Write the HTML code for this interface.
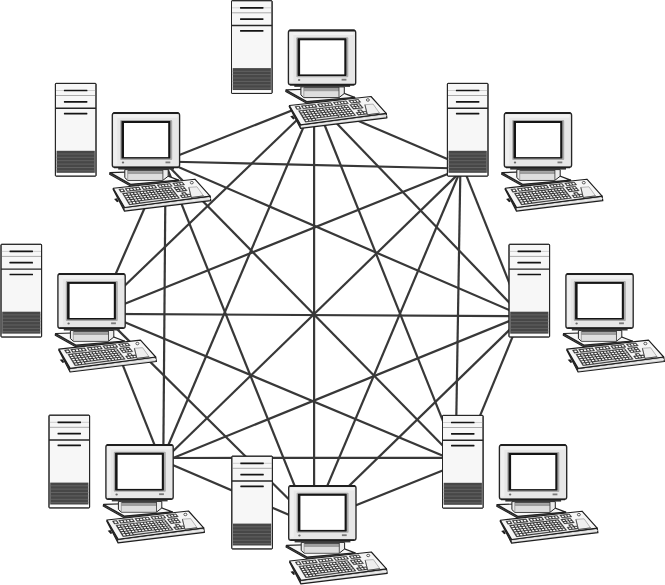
<!DOCTYPE html>
<html lang="en">
<head>
<meta charset="utf-8">
<title>Full mesh network topology</title>
<style>
html,body{margin:0;padding:0;background:#fff;}
body{width:665px;height:585px;overflow:hidden;font-family:"Liberation Sans",sans-serif;}
svg{display:block;}
</style>
</head>
<body>
<svg width="665" height="585" viewBox="0 0 665 585" role="img" aria-label="Full mesh network topology of eight workstations">
<rect width="665" height="585" fill="#fff"/>
<g stroke="#383838" stroke-width="2.2" stroke-linecap="butt" fill="none">
<line x1="315.1" y1="101.2" x2="163.0" y2="161.6"/>
<line x1="316.0" y1="101.7" x2="96.6" y2="312.7"/>
<line x1="314.8" y1="100.5" x2="162.1" y2="459.8"/>
<line x1="314.1" y1="100.5" x2="314.1" y2="526.0"/>
<line x1="314.8" y1="100.5" x2="458.5" y2="459.8"/>
<line x1="314.7" y1="100.6" x2="522.2" y2="316.0"/>
<line x1="314.2" y1="101.9" x2="463.1" y2="165.8"/>
<line x1="163.0" y1="161.5" x2="462.0" y2="168.5"/>
<line x1="163.4" y1="160.6" x2="522.2" y2="315.7"/>
<line x1="163.4" y1="161.1" x2="457.4" y2="460.6"/>
<line x1="164.3" y1="161.0" x2="310.9" y2="526.4"/>
<line x1="165.6" y1="161.5" x2="163.3" y2="460.0"/>
<line x1="164.7" y1="162.2" x2="98.0" y2="314.2"/>
<line x1="461.9" y1="168.2" x2="98.1" y2="314.5"/>
<line x1="98.0" y1="313.9" x2="522.0" y2="316.2"/>
<line x1="99.2" y1="311.4" x2="457.2" y2="461.8"/>
<line x1="100.0" y1="312.1" x2="313.9" y2="524.1"/>
<line x1="101.9" y1="312.6" x2="160.8" y2="460.7"/>
<line x1="463.0" y1="169.4" x2="163.2" y2="460.7"/>
<line x1="521.9" y1="315.9" x2="163.3" y2="461.9"/>
<line x1="458.0" y1="457.9" x2="162.5" y2="458.0"/>
<line x1="312.5" y1="524.9" x2="162.2" y2="460.6"/>
<line x1="461.4" y1="168.2" x2="310.6" y2="525.4"/>
<line x1="522.7" y1="317.0" x2="310.0" y2="523.9"/>
<line x1="459.5" y1="463.8" x2="310.9" y2="523.3"/>
<line x1="460.4" y1="168.4" x2="455.6" y2="460.0"/>
<line x1="521.2" y1="315.9" x2="461.2" y2="461.3"/>
<line x1="463.3" y1="167.9" x2="522.5" y2="316.0"/>
</g>
<g transform="translate(231.4 0.3)">

 <!-- tower -->
 <rect x="0.1" y="0.4" width="40.6" height="92.7" rx="0.7" fill="#f7f7f7" stroke="#262626" stroke-width="1"/>
 <line x1="0.7" y1="7.5" x2="40.1" y2="7.5" stroke="#c4c4c4" stroke-width="0.8"/>
 <line x1="0.7" y1="12.5" x2="40.1" y2="12.5" stroke="#8a8a8a" stroke-width="0.7"/>
 <line x1="0.1" y1="25.2" x2="40.7" y2="25.2" stroke="#262626" stroke-width="1.4"/>
 <rect x="8.6" y="6.65" width="23.5" height="1.7" rx="0.4" fill="#141414"/>
 <rect x="8.6" y="17.95" width="23.5" height="1.7" rx="0.4" fill="#141414"/>
 <rect x="8.6" y="29.75" width="23.5" height="1.7" rx="0.4" fill="#141414"/>
 <rect x="1.3" y="67.8" width="38.2" height="22.1" fill="#474747"/>
 <g stroke="#6f6f6f" stroke-width="0.7">
  <line x1="1.3" y1="71" x2="39.5" y2="71"/><line x1="1.3" y1="74.3" x2="39.5" y2="74.3"/>
  <line x1="1.3" y1="77.7" x2="39.5" y2="77.7"/><line x1="1.3" y1="81.1" x2="39.5" y2="81.1"/>
  <line x1="1.3" y1="84.5" x2="39.5" y2="84.5"/><line x1="1.3" y1="87.8" x2="39.5" y2="87.8"/>
 </g>
 <rect x="0.7" y="89.9" width="39.4" height="2.6" fill="#fdfdfd"/>
 <rect x="0.1" y="0.4" width="40.6" height="92.7" rx="0.7" fill="none" stroke="#262626" stroke-width="1"/>

 <!-- monitor base plate -->
 <polygon points="54.3,91.3 75.3,103 123.4,98.6 123.3,97 75.3,101.3 54.6,89.8" fill="#777" stroke="#222" stroke-width="1.1" stroke-linejoin="round"/>
 <polygon points="54.8,89.6 100,88.2 123.3,97.1 75.3,101.3" fill="#f8f8f8" stroke="#222" stroke-width="1.2" stroke-linejoin="round"/>
 <!-- stand block -->
 <polygon points="69.5,86.6 112.9,86.6 112.9,93.2 107.6,97.3 72.4,97.3 69.5,94.6" fill="#ececec" stroke="#222" stroke-width="1" stroke-linejoin="round"/>
 <rect x="72.4" y="86.6" width="35.2" height="1.6" fill="#4d4d4d"/>
 <rect x="72.4" y="88.2" width="35.2" height="3" fill="#9e9e9e"/>
 <rect x="72.4" y="91.2" width="35.2" height="5.6" fill="#dedede"/>
 <line x1="72.4" y1="86.6" x2="72.4" y2="97.2" stroke="#777" stroke-width="0.6"/>
 <line x1="107.6" y1="86.6" x2="107.6" y2="97.2" stroke="#333" stroke-width="0.8"/>
 <!-- neck shadow -->
 <rect x="62.9" y="84.4" width="55.8" height="2.2" fill="#3a3a3a"/>
 <!-- monitor body -->
 <rect x="57" y="29.9" width="67.3" height="54.5" rx="2.3" fill="#e7e7e7" stroke="#262626" stroke-width="1.35"/>
 <rect x="59" y="31.6" width="63.3" height="3.2" rx="1.2" fill="#f2f2f2"/>
 <rect x="58.4" y="31.6" width="3.6" height="50" rx="1.2" fill="#efefef"/>
 <path d="M58,30.1 H123.3" fill="none" stroke="#1f1f1f" stroke-width="2"/>
 <path d="M58.6,84.3 H122.7" fill="none" stroke="#1f1f1f" stroke-width="1.7"/>
 <rect x="64.9" y="37" width="52" height="40" rx="1" fill="#a9a9a9"/>
 <rect x="66.2" y="38" width="48.8" height="37.6" rx="0.6" fill="#151515"/>
 <rect x="68.7" y="40" width="44.2" height="34.1" fill="#fff"/>
 <ellipse cx="67.7" cy="79.6" rx="1.2" ry="1" fill="#6a6a6a"/>
 <rect x="110.2" y="78.5" width="4.8" height="1.8" fill="#7a7a7a"/>
 <!-- keyboard -->
<polygon points="57.80,106.10 69.2,128.1 155.5,117.6 154.80,113.10 69.30,124.50" fill="#d2d2d2" stroke="#1e1e1e" stroke-width="1.2" stroke-linejoin="round"/>
<polygon points="57.80,106.10 69.2,128.1 69.30,124.50" fill="#2a2a2a"/>
<polyline points="69.6,126.3 155.2,115.4" fill="none" stroke="#f2f2f2" stroke-width="1"/>
<polygon points="58.8,115.9 61.6,115.3 63.4,118.4 61.8,119.2" fill="#1e1e1e"/>
<polygon points="58.00,105.20 139.60,96.20 154.80,113.10 69.30,124.50" fill="#f6f6f6" stroke="#1e1e1e" stroke-width="1.15" stroke-linejoin="round"/>
<g fill="#333" stroke="#333" stroke-width="0.4" stroke-linejoin="round"><polygon points="63.51,106.13 67.90,105.64 69.82,108.74 65.39,109.25"/><polygon points="69.71,105.44 83.73,103.87 85.78,106.89 71.64,108.52"/><polygon points="85.94,103.62 99.45,102.11 101.63,105.05 88.01,106.63"/><polygon points="101.75,101.85 114.79,100.39 117.08,103.27 103.94,104.79"/><polygon points="117.31,100.11 127.01,99.02 129.39,101.84 119.63,102.97"/><polygon points="67.02,110.35 115.92,104.62 124.36,115.30 74.02,121.90"/><polygon points="118.29,104.34 128.14,103.19 131.91,107.71 121.96,108.93"/><polygon points="126.00,109.82 129.97,109.33 132.21,112.03 128.21,112.54"/><polygon points="124.57,112.21 134.61,110.93 136.89,113.65 126.79,114.98"/></g>
<g fill="#fff"><polygon points="65.09,106.77 67.26,106.52 68.23,108.09 66.04,108.34"/><polygon points="71.28,106.07 73.43,105.83 74.42,107.38 72.26,107.63"/><polygon points="74.57,105.70 76.70,105.46 77.70,107.00 75.56,107.25"/><polygon points="77.83,105.33 79.94,105.09 80.96,106.63 78.84,106.87"/><polygon points="81.06,104.97 83.16,104.73 84.20,106.26 82.08,106.50"/><polygon points="87.50,104.24 89.57,104.00 90.63,105.52 88.55,105.76"/><polygon points="90.67,103.88 92.72,103.65 93.80,105.16 91.73,105.39"/><polygon points="93.81,103.53 95.85,103.30 96.94,104.80 94.89,105.03"/><polygon points="96.93,103.17 98.96,102.94 100.06,104.44 98.02,104.67"/><polygon points="103.31,102.45 105.31,102.23 106.43,103.71 104.42,103.94"/><polygon points="106.36,102.11 108.34,101.89 109.48,103.36 107.49,103.59"/><polygon points="109.39,101.77 111.36,101.54 112.51,103.01 110.53,103.24"/><polygon points="112.40,101.43 114.35,101.21 115.51,102.66 113.55,102.89"/><polygon points="118.87,100.70 120.79,100.48 121.97,101.92 120.04,102.14"/><polygon points="121.81,100.36 123.72,100.15 124.91,101.59 122.99,101.81"/><polygon points="124.73,100.03 126.63,99.82 127.83,101.25 125.93,101.47"/><polygon points="68.62,111.01 70.82,110.75 71.60,112.00 69.39,112.27"/><polygon points="71.99,110.61 74.17,110.35 74.96,111.60 72.77,111.86"/><polygon points="75.32,110.21 77.49,109.96 78.29,111.20 76.12,111.46"/><polygon points="78.64,109.82 80.79,109.57 81.60,110.81 79.44,111.06"/><polygon points="81.92,109.43 84.06,109.18 84.88,110.41 82.74,110.67"/><polygon points="85.19,109.05 87.31,108.80 88.14,110.02 86.01,110.28"/><polygon points="88.43,108.67 90.53,108.42 91.37,109.64 89.26,109.89"/><polygon points="91.64,108.29 93.73,108.04 94.58,109.25 92.49,109.50"/><polygon points="94.84,107.91 96.91,107.66 97.77,108.87 95.69,109.12"/><polygon points="98.00,107.54 100.06,107.29 100.93,108.49 98.87,108.74"/><polygon points="101.15,107.16 103.19,106.92 104.08,108.12 102.03,108.36"/><polygon points="104.27,106.79 106.30,106.56 107.19,107.74 105.16,107.99"/><polygon points="107.37,106.43 109.39,106.19 110.29,107.37 108.27,107.62"/><polygon points="110.45,106.06 112.45,105.83 113.36,107.01 111.36,107.25"/><polygon points="113.51,105.70 115.49,105.47 116.41,106.64 114.42,106.88"/><polygon points="69.90,113.10 72.11,112.83 72.90,114.11 70.68,114.38"/><polygon points="73.28,112.69 75.48,112.43 76.28,113.69 74.08,113.96"/><polygon points="76.64,112.29 78.82,112.02 79.63,113.28 77.44,113.55"/><polygon points="79.97,111.88 82.13,111.62 82.96,112.88 80.79,113.14"/><polygon points="83.28,111.49 85.42,111.23 86.26,112.47 84.10,112.74"/><polygon points="86.56,111.09 88.69,110.83 89.53,112.07 87.40,112.34"/><polygon points="89.82,110.70 91.93,110.44 92.79,111.68 90.66,111.94"/><polygon points="93.05,110.31 95.15,110.05 96.01,111.28 93.91,111.54"/><polygon points="96.26,109.92 98.34,109.67 99.22,110.89 97.13,111.15"/><polygon points="99.44,109.54 101.51,109.29 102.40,110.50 100.32,110.76"/><polygon points="102.61,109.15 104.66,108.91 105.55,110.12 103.49,110.37"/><polygon points="105.74,108.78 107.78,108.53 108.69,109.73 106.64,109.98"/><polygon points="108.86,108.40 110.88,108.16 111.80,109.35 109.77,109.60"/><polygon points="111.95,108.03 113.96,107.78 114.89,108.98 112.87,109.22"/><polygon points="115.03,107.66 117.02,107.42 117.95,108.60 115.95,108.85"/><polygon points="71.20,115.22 73.42,114.95 74.22,116.24 71.99,116.52"/><polygon points="74.60,114.80 76.81,114.53 77.62,115.82 75.40,116.09"/><polygon points="77.97,114.39 80.17,114.12 80.99,115.40 78.79,115.67"/><polygon points="81.32,113.98 83.50,113.71 84.33,114.98 82.15,115.25"/><polygon points="84.65,113.57 86.81,113.30 87.65,114.57 85.49,114.84"/><polygon points="87.95,113.16 90.09,112.90 90.95,114.16 88.80,114.42"/><polygon points="91.22,112.76 93.35,112.49 94.22,113.75 92.08,114.01"/><polygon points="94.47,112.36 96.59,112.10 97.46,113.34 95.34,113.61"/><polygon points="97.70,111.96 99.80,111.70 100.68,112.94 98.58,113.20"/><polygon points="100.90,111.56 102.98,111.31 103.88,112.54 101.79,112.80"/><polygon points="104.08,111.17 106.15,110.92 107.05,112.15 104.98,112.40"/><polygon points="107.24,110.78 109.29,110.53 110.20,111.75 108.15,112.01"/><polygon points="110.37,110.40 112.40,110.15 113.33,111.36 111.29,111.62"/><polygon points="113.48,110.01 115.50,109.77 116.43,110.98 114.41,111.23"/><polygon points="116.57,109.63 118.57,109.39 119.52,110.59 117.51,110.84"/><polygon points="72.51,117.38 74.75,117.10 75.56,118.41 73.32,118.70"/><polygon points="75.93,116.95 78.16,116.67 78.98,117.97 76.75,118.26"/><polygon points="79.33,116.52 81.53,116.24 82.37,117.54 80.16,117.82"/><polygon points="82.70,116.10 84.89,115.82 85.73,117.11 83.54,117.39"/><polygon points="86.04,115.68 88.21,115.40 89.07,116.69 86.89,116.97"/><polygon points="89.36,115.26 91.51,114.99 92.38,116.27 90.22,116.54"/><polygon points="92.65,114.85 94.79,114.58 95.67,115.85 93.52,116.12"/><polygon points="95.92,114.43 98.04,114.17 98.93,115.43 96.80,115.70"/><polygon points="99.16,114.03 101.27,113.76 102.17,115.02 100.06,115.29"/><polygon points="102.38,113.62 104.47,113.36 105.38,114.61 103.29,114.88"/><polygon points="105.58,113.22 107.65,112.96 108.57,114.20 106.49,114.47"/><polygon points="108.75,112.82 110.81,112.56 111.74,113.80 109.67,114.06"/><polygon points="111.90,112.42 113.94,112.17 114.88,113.40 112.83,113.66"/><polygon points="115.02,112.03 117.05,111.78 118.00,113.00 115.97,113.26"/><polygon points="118.13,111.64 120.14,111.39 121.10,112.61 119.08,112.86"/><polygon points="73.85,119.57 76.10,119.28 76.92,120.61 74.66,120.90"/><polygon points="77.29,119.12 79.52,118.84 80.36,120.16 78.12,120.45"/><polygon points="80.70,118.69 82.92,118.40 83.77,119.72 81.54,120.01"/><polygon points="84.05,118.26 106.03,115.43 106.95,116.70 84.90,119.57" fill="#d9d9d9"/><polygon points="107.10,115.29 109.18,115.03 110.12,116.29 108.02,116.56"/><polygon points="110.29,114.89 112.36,114.62 113.30,115.88 111.22,116.15"/><polygon points="113.45,114.48 115.51,114.21 116.46,115.46 114.40,115.73"/><polygon points="116.59,114.08 118.63,113.81 119.59,115.06 117.55,115.32"/><polygon points="119.71,113.67 121.73,113.41 122.71,114.65 120.68,114.92"/><polygon points="119.87,104.95 121.83,104.72 122.77,105.88 120.81,106.12"/><polygon points="122.86,104.60 124.80,104.37 125.75,105.52 123.80,105.76"/><polygon points="125.83,104.25 127.75,104.02 128.71,105.17 126.78,105.40"/><polygon points="121.42,106.88 123.39,106.65 124.34,107.82 122.37,108.06"/><polygon points="124.43,106.52 126.38,106.29 127.34,107.46 125.38,107.70"/><polygon points="127.41,106.16 129.34,105.93 130.31,107.09 128.37,107.33"/><polygon points="127.62,110.45 129.59,110.20 130.58,111.40 128.60,111.65"/><polygon points="126.20,112.84 128.20,112.58 129.19,113.81 127.19,114.07"/><polygon points="129.25,112.45 131.23,112.19 132.23,113.41 130.25,113.67"/><polygon points="132.28,112.06 134.24,111.81 135.25,113.02 133.28,113.28"/></g>
<polygon points="133.5,104.4 141.7,103.8 148.2,112.9 136,114.5" fill="#efefef" stroke="#8a8a8a" stroke-width="0.6" stroke-linejoin="round"/>
<polyline points="133.5,104.4 136,114.5 148.2,112.9" fill="none" stroke="#333" stroke-width="0.8" stroke-linejoin="round"/>
<ellipse cx="136.49" cy="99.66" rx="1.5" ry="1.25" fill="#fff" stroke="#333" stroke-width="0.8"/>
</g>
<g transform="translate(55.3 83.0)">

 <!-- tower -->
 <rect x="0.1" y="0.4" width="40.6" height="92.7" rx="0.7" fill="#f7f7f7" stroke="#262626" stroke-width="1"/>
 <line x1="0.7" y1="7.5" x2="40.1" y2="7.5" stroke="#c4c4c4" stroke-width="0.8"/>
 <line x1="0.7" y1="12.5" x2="40.1" y2="12.5" stroke="#8a8a8a" stroke-width="0.7"/>
 <line x1="0.1" y1="25.2" x2="40.7" y2="25.2" stroke="#262626" stroke-width="1.4"/>
 <rect x="8.6" y="6.65" width="23.5" height="1.7" rx="0.4" fill="#141414"/>
 <rect x="8.6" y="17.95" width="23.5" height="1.7" rx="0.4" fill="#141414"/>
 <rect x="8.6" y="29.75" width="23.5" height="1.7" rx="0.4" fill="#141414"/>
 <rect x="1.3" y="67.8" width="38.2" height="22.1" fill="#474747"/>
 <g stroke="#6f6f6f" stroke-width="0.7">
  <line x1="1.3" y1="71" x2="39.5" y2="71"/><line x1="1.3" y1="74.3" x2="39.5" y2="74.3"/>
  <line x1="1.3" y1="77.7" x2="39.5" y2="77.7"/><line x1="1.3" y1="81.1" x2="39.5" y2="81.1"/>
  <line x1="1.3" y1="84.5" x2="39.5" y2="84.5"/><line x1="1.3" y1="87.8" x2="39.5" y2="87.8"/>
 </g>
 <rect x="0.7" y="89.9" width="39.4" height="2.6" fill="#fdfdfd"/>
 <rect x="0.1" y="0.4" width="40.6" height="92.7" rx="0.7" fill="none" stroke="#262626" stroke-width="1"/>

 <!-- monitor base plate -->
 <polygon points="54.3,91.3 75.3,103 123.4,98.6 123.3,97 75.3,101.3 54.6,89.8" fill="#777" stroke="#222" stroke-width="1.1" stroke-linejoin="round"/>
 <polygon points="54.8,89.6 100,88.2 123.3,97.1 75.3,101.3" fill="#f8f8f8" stroke="#222" stroke-width="1.2" stroke-linejoin="round"/>
 <!-- stand block -->
 <polygon points="69.5,86.6 112.9,86.6 112.9,93.2 107.6,97.3 72.4,97.3 69.5,94.6" fill="#ececec" stroke="#222" stroke-width="1" stroke-linejoin="round"/>
 <rect x="72.4" y="86.6" width="35.2" height="1.6" fill="#4d4d4d"/>
 <rect x="72.4" y="88.2" width="35.2" height="3" fill="#9e9e9e"/>
 <rect x="72.4" y="91.2" width="35.2" height="5.6" fill="#dedede"/>
 <line x1="72.4" y1="86.6" x2="72.4" y2="97.2" stroke="#777" stroke-width="0.6"/>
 <line x1="107.6" y1="86.6" x2="107.6" y2="97.2" stroke="#333" stroke-width="0.8"/>
 <!-- neck shadow -->
 <rect x="62.9" y="84.4" width="55.8" height="2.2" fill="#3a3a3a"/>
 <!-- monitor body -->
 <rect x="57" y="29.9" width="67.3" height="54.5" rx="2.3" fill="#e7e7e7" stroke="#262626" stroke-width="1.35"/>
 <rect x="59" y="31.6" width="63.3" height="3.2" rx="1.2" fill="#f2f2f2"/>
 <rect x="58.4" y="31.6" width="3.6" height="50" rx="1.2" fill="#efefef"/>
 <path d="M58,30.1 H123.3" fill="none" stroke="#1f1f1f" stroke-width="2"/>
 <path d="M58.6,84.3 H122.7" fill="none" stroke="#1f1f1f" stroke-width="1.7"/>
 <rect x="64.9" y="37" width="52" height="40" rx="1" fill="#a9a9a9"/>
 <rect x="66.2" y="38" width="48.8" height="37.6" rx="0.6" fill="#151515"/>
 <rect x="68.7" y="40" width="44.2" height="34.1" fill="#fff"/>
 <ellipse cx="67.7" cy="79.6" rx="1.2" ry="1" fill="#6a6a6a"/>
 <rect x="110.2" y="78.5" width="4.8" height="1.8" fill="#7a7a7a"/>
 <!-- keyboard -->
<polygon points="57.80,106.10 69.2,128.1 155.5,117.6 154.80,113.10 69.30,124.50" fill="#d2d2d2" stroke="#1e1e1e" stroke-width="1.2" stroke-linejoin="round"/>
<polygon points="57.80,106.10 69.2,128.1 69.30,124.50" fill="#2a2a2a"/>
<polyline points="69.6,126.3 155.2,115.4" fill="none" stroke="#f2f2f2" stroke-width="1"/>
<polygon points="58.8,115.9 61.6,115.3 63.4,118.4 61.8,119.2" fill="#1e1e1e"/>
<polygon points="58.00,105.20 139.60,96.20 154.80,113.10 69.30,124.50" fill="#f6f6f6" stroke="#1e1e1e" stroke-width="1.15" stroke-linejoin="round"/>
<g fill="#333" stroke="#333" stroke-width="0.4" stroke-linejoin="round"><polygon points="63.51,106.13 67.90,105.64 69.82,108.74 65.39,109.25"/><polygon points="69.71,105.44 83.73,103.87 85.78,106.89 71.64,108.52"/><polygon points="85.94,103.62 99.45,102.11 101.63,105.05 88.01,106.63"/><polygon points="101.75,101.85 114.79,100.39 117.08,103.27 103.94,104.79"/><polygon points="117.31,100.11 127.01,99.02 129.39,101.84 119.63,102.97"/><polygon points="67.02,110.35 115.92,104.62 124.36,115.30 74.02,121.90"/><polygon points="118.29,104.34 128.14,103.19 131.91,107.71 121.96,108.93"/><polygon points="126.00,109.82 129.97,109.33 132.21,112.03 128.21,112.54"/><polygon points="124.57,112.21 134.61,110.93 136.89,113.65 126.79,114.98"/></g>
<g fill="#fff"><polygon points="65.09,106.77 67.26,106.52 68.23,108.09 66.04,108.34"/><polygon points="71.28,106.07 73.43,105.83 74.42,107.38 72.26,107.63"/><polygon points="74.57,105.70 76.70,105.46 77.70,107.00 75.56,107.25"/><polygon points="77.83,105.33 79.94,105.09 80.96,106.63 78.84,106.87"/><polygon points="81.06,104.97 83.16,104.73 84.20,106.26 82.08,106.50"/><polygon points="87.50,104.24 89.57,104.00 90.63,105.52 88.55,105.76"/><polygon points="90.67,103.88 92.72,103.65 93.80,105.16 91.73,105.39"/><polygon points="93.81,103.53 95.85,103.30 96.94,104.80 94.89,105.03"/><polygon points="96.93,103.17 98.96,102.94 100.06,104.44 98.02,104.67"/><polygon points="103.31,102.45 105.31,102.23 106.43,103.71 104.42,103.94"/><polygon points="106.36,102.11 108.34,101.89 109.48,103.36 107.49,103.59"/><polygon points="109.39,101.77 111.36,101.54 112.51,103.01 110.53,103.24"/><polygon points="112.40,101.43 114.35,101.21 115.51,102.66 113.55,102.89"/><polygon points="118.87,100.70 120.79,100.48 121.97,101.92 120.04,102.14"/><polygon points="121.81,100.36 123.72,100.15 124.91,101.59 122.99,101.81"/><polygon points="124.73,100.03 126.63,99.82 127.83,101.25 125.93,101.47"/><polygon points="68.62,111.01 70.82,110.75 71.60,112.00 69.39,112.27"/><polygon points="71.99,110.61 74.17,110.35 74.96,111.60 72.77,111.86"/><polygon points="75.32,110.21 77.49,109.96 78.29,111.20 76.12,111.46"/><polygon points="78.64,109.82 80.79,109.57 81.60,110.81 79.44,111.06"/><polygon points="81.92,109.43 84.06,109.18 84.88,110.41 82.74,110.67"/><polygon points="85.19,109.05 87.31,108.80 88.14,110.02 86.01,110.28"/><polygon points="88.43,108.67 90.53,108.42 91.37,109.64 89.26,109.89"/><polygon points="91.64,108.29 93.73,108.04 94.58,109.25 92.49,109.50"/><polygon points="94.84,107.91 96.91,107.66 97.77,108.87 95.69,109.12"/><polygon points="98.00,107.54 100.06,107.29 100.93,108.49 98.87,108.74"/><polygon points="101.15,107.16 103.19,106.92 104.08,108.12 102.03,108.36"/><polygon points="104.27,106.79 106.30,106.56 107.19,107.74 105.16,107.99"/><polygon points="107.37,106.43 109.39,106.19 110.29,107.37 108.27,107.62"/><polygon points="110.45,106.06 112.45,105.83 113.36,107.01 111.36,107.25"/><polygon points="113.51,105.70 115.49,105.47 116.41,106.64 114.42,106.88"/><polygon points="69.90,113.10 72.11,112.83 72.90,114.11 70.68,114.38"/><polygon points="73.28,112.69 75.48,112.43 76.28,113.69 74.08,113.96"/><polygon points="76.64,112.29 78.82,112.02 79.63,113.28 77.44,113.55"/><polygon points="79.97,111.88 82.13,111.62 82.96,112.88 80.79,113.14"/><polygon points="83.28,111.49 85.42,111.23 86.26,112.47 84.10,112.74"/><polygon points="86.56,111.09 88.69,110.83 89.53,112.07 87.40,112.34"/><polygon points="89.82,110.70 91.93,110.44 92.79,111.68 90.66,111.94"/><polygon points="93.05,110.31 95.15,110.05 96.01,111.28 93.91,111.54"/><polygon points="96.26,109.92 98.34,109.67 99.22,110.89 97.13,111.15"/><polygon points="99.44,109.54 101.51,109.29 102.40,110.50 100.32,110.76"/><polygon points="102.61,109.15 104.66,108.91 105.55,110.12 103.49,110.37"/><polygon points="105.74,108.78 107.78,108.53 108.69,109.73 106.64,109.98"/><polygon points="108.86,108.40 110.88,108.16 111.80,109.35 109.77,109.60"/><polygon points="111.95,108.03 113.96,107.78 114.89,108.98 112.87,109.22"/><polygon points="115.03,107.66 117.02,107.42 117.95,108.60 115.95,108.85"/><polygon points="71.20,115.22 73.42,114.95 74.22,116.24 71.99,116.52"/><polygon points="74.60,114.80 76.81,114.53 77.62,115.82 75.40,116.09"/><polygon points="77.97,114.39 80.17,114.12 80.99,115.40 78.79,115.67"/><polygon points="81.32,113.98 83.50,113.71 84.33,114.98 82.15,115.25"/><polygon points="84.65,113.57 86.81,113.30 87.65,114.57 85.49,114.84"/><polygon points="87.95,113.16 90.09,112.90 90.95,114.16 88.80,114.42"/><polygon points="91.22,112.76 93.35,112.49 94.22,113.75 92.08,114.01"/><polygon points="94.47,112.36 96.59,112.10 97.46,113.34 95.34,113.61"/><polygon points="97.70,111.96 99.80,111.70 100.68,112.94 98.58,113.20"/><polygon points="100.90,111.56 102.98,111.31 103.88,112.54 101.79,112.80"/><polygon points="104.08,111.17 106.15,110.92 107.05,112.15 104.98,112.40"/><polygon points="107.24,110.78 109.29,110.53 110.20,111.75 108.15,112.01"/><polygon points="110.37,110.40 112.40,110.15 113.33,111.36 111.29,111.62"/><polygon points="113.48,110.01 115.50,109.77 116.43,110.98 114.41,111.23"/><polygon points="116.57,109.63 118.57,109.39 119.52,110.59 117.51,110.84"/><polygon points="72.51,117.38 74.75,117.10 75.56,118.41 73.32,118.70"/><polygon points="75.93,116.95 78.16,116.67 78.98,117.97 76.75,118.26"/><polygon points="79.33,116.52 81.53,116.24 82.37,117.54 80.16,117.82"/><polygon points="82.70,116.10 84.89,115.82 85.73,117.11 83.54,117.39"/><polygon points="86.04,115.68 88.21,115.40 89.07,116.69 86.89,116.97"/><polygon points="89.36,115.26 91.51,114.99 92.38,116.27 90.22,116.54"/><polygon points="92.65,114.85 94.79,114.58 95.67,115.85 93.52,116.12"/><polygon points="95.92,114.43 98.04,114.17 98.93,115.43 96.80,115.70"/><polygon points="99.16,114.03 101.27,113.76 102.17,115.02 100.06,115.29"/><polygon points="102.38,113.62 104.47,113.36 105.38,114.61 103.29,114.88"/><polygon points="105.58,113.22 107.65,112.96 108.57,114.20 106.49,114.47"/><polygon points="108.75,112.82 110.81,112.56 111.74,113.80 109.67,114.06"/><polygon points="111.90,112.42 113.94,112.17 114.88,113.40 112.83,113.66"/><polygon points="115.02,112.03 117.05,111.78 118.00,113.00 115.97,113.26"/><polygon points="118.13,111.64 120.14,111.39 121.10,112.61 119.08,112.86"/><polygon points="73.85,119.57 76.10,119.28 76.92,120.61 74.66,120.90"/><polygon points="77.29,119.12 79.52,118.84 80.36,120.16 78.12,120.45"/><polygon points="80.70,118.69 82.92,118.40 83.77,119.72 81.54,120.01"/><polygon points="84.05,118.26 106.03,115.43 106.95,116.70 84.90,119.57" fill="#d9d9d9"/><polygon points="107.10,115.29 109.18,115.03 110.12,116.29 108.02,116.56"/><polygon points="110.29,114.89 112.36,114.62 113.30,115.88 111.22,116.15"/><polygon points="113.45,114.48 115.51,114.21 116.46,115.46 114.40,115.73"/><polygon points="116.59,114.08 118.63,113.81 119.59,115.06 117.55,115.32"/><polygon points="119.71,113.67 121.73,113.41 122.71,114.65 120.68,114.92"/><polygon points="119.87,104.95 121.83,104.72 122.77,105.88 120.81,106.12"/><polygon points="122.86,104.60 124.80,104.37 125.75,105.52 123.80,105.76"/><polygon points="125.83,104.25 127.75,104.02 128.71,105.17 126.78,105.40"/><polygon points="121.42,106.88 123.39,106.65 124.34,107.82 122.37,108.06"/><polygon points="124.43,106.52 126.38,106.29 127.34,107.46 125.38,107.70"/><polygon points="127.41,106.16 129.34,105.93 130.31,107.09 128.37,107.33"/><polygon points="127.62,110.45 129.59,110.20 130.58,111.40 128.60,111.65"/><polygon points="126.20,112.84 128.20,112.58 129.19,113.81 127.19,114.07"/><polygon points="129.25,112.45 131.23,112.19 132.23,113.41 130.25,113.67"/><polygon points="132.28,112.06 134.24,111.81 135.25,113.02 133.28,113.28"/></g>
<polygon points="133.5,104.4 141.7,103.8 148.2,112.9 136,114.5" fill="#efefef" stroke="#8a8a8a" stroke-width="0.6" stroke-linejoin="round"/>
<polyline points="133.5,104.4 136,114.5 148.2,112.9" fill="none" stroke="#333" stroke-width="0.8" stroke-linejoin="round"/>
<ellipse cx="136.49" cy="99.66" rx="1.5" ry="1.25" fill="#fff" stroke="#333" stroke-width="0.8"/>
</g>
<g transform="translate(447.3 83.0)">

 <!-- tower -->
 <rect x="0.1" y="0.4" width="40.6" height="92.7" rx="0.7" fill="#f7f7f7" stroke="#262626" stroke-width="1"/>
 <line x1="0.7" y1="7.5" x2="40.1" y2="7.5" stroke="#c4c4c4" stroke-width="0.8"/>
 <line x1="0.7" y1="12.5" x2="40.1" y2="12.5" stroke="#8a8a8a" stroke-width="0.7"/>
 <line x1="0.1" y1="25.2" x2="40.7" y2="25.2" stroke="#262626" stroke-width="1.4"/>
 <rect x="8.6" y="6.65" width="23.5" height="1.7" rx="0.4" fill="#141414"/>
 <rect x="8.6" y="17.95" width="23.5" height="1.7" rx="0.4" fill="#141414"/>
 <rect x="8.6" y="29.75" width="23.5" height="1.7" rx="0.4" fill="#141414"/>
 <rect x="1.3" y="67.8" width="38.2" height="22.1" fill="#474747"/>
 <g stroke="#6f6f6f" stroke-width="0.7">
  <line x1="1.3" y1="71" x2="39.5" y2="71"/><line x1="1.3" y1="74.3" x2="39.5" y2="74.3"/>
  <line x1="1.3" y1="77.7" x2="39.5" y2="77.7"/><line x1="1.3" y1="81.1" x2="39.5" y2="81.1"/>
  <line x1="1.3" y1="84.5" x2="39.5" y2="84.5"/><line x1="1.3" y1="87.8" x2="39.5" y2="87.8"/>
 </g>
 <rect x="0.7" y="89.9" width="39.4" height="2.6" fill="#fdfdfd"/>
 <rect x="0.1" y="0.4" width="40.6" height="92.7" rx="0.7" fill="none" stroke="#262626" stroke-width="1"/>

 <!-- monitor base plate -->
 <polygon points="54.3,91.3 75.3,103 123.4,98.6 123.3,97 75.3,101.3 54.6,89.8" fill="#777" stroke="#222" stroke-width="1.1" stroke-linejoin="round"/>
 <polygon points="54.8,89.6 100,88.2 123.3,97.1 75.3,101.3" fill="#f8f8f8" stroke="#222" stroke-width="1.2" stroke-linejoin="round"/>
 <!-- stand block -->
 <polygon points="69.5,86.6 112.9,86.6 112.9,93.2 107.6,97.3 72.4,97.3 69.5,94.6" fill="#ececec" stroke="#222" stroke-width="1" stroke-linejoin="round"/>
 <rect x="72.4" y="86.6" width="35.2" height="1.6" fill="#4d4d4d"/>
 <rect x="72.4" y="88.2" width="35.2" height="3" fill="#9e9e9e"/>
 <rect x="72.4" y="91.2" width="35.2" height="5.6" fill="#dedede"/>
 <line x1="72.4" y1="86.6" x2="72.4" y2="97.2" stroke="#777" stroke-width="0.6"/>
 <line x1="107.6" y1="86.6" x2="107.6" y2="97.2" stroke="#333" stroke-width="0.8"/>
 <!-- neck shadow -->
 <rect x="62.9" y="84.4" width="55.8" height="2.2" fill="#3a3a3a"/>
 <!-- monitor body -->
 <rect x="57" y="29.9" width="67.3" height="54.5" rx="2.3" fill="#e7e7e7" stroke="#262626" stroke-width="1.35"/>
 <rect x="59" y="31.6" width="63.3" height="3.2" rx="1.2" fill="#f2f2f2"/>
 <rect x="58.4" y="31.6" width="3.6" height="50" rx="1.2" fill="#efefef"/>
 <path d="M58,30.1 H123.3" fill="none" stroke="#1f1f1f" stroke-width="2"/>
 <path d="M58.6,84.3 H122.7" fill="none" stroke="#1f1f1f" stroke-width="1.7"/>
 <rect x="64.9" y="37" width="52" height="40" rx="1" fill="#a9a9a9"/>
 <rect x="66.2" y="38" width="48.8" height="37.6" rx="0.6" fill="#151515"/>
 <rect x="68.7" y="40" width="44.2" height="34.1" fill="#fff"/>
 <ellipse cx="67.7" cy="79.6" rx="1.2" ry="1" fill="#6a6a6a"/>
 <rect x="110.2" y="78.5" width="4.8" height="1.8" fill="#7a7a7a"/>
 <!-- keyboard -->
<polygon points="57.80,106.10 69.2,128.1 155.5,117.6 154.80,113.10 69.30,124.50" fill="#d2d2d2" stroke="#1e1e1e" stroke-width="1.2" stroke-linejoin="round"/>
<polygon points="57.80,106.10 69.2,128.1 69.30,124.50" fill="#2a2a2a"/>
<polyline points="69.6,126.3 155.2,115.4" fill="none" stroke="#f2f2f2" stroke-width="1"/>
<polygon points="58.8,115.9 61.6,115.3 63.4,118.4 61.8,119.2" fill="#1e1e1e"/>
<polygon points="58.00,105.20 139.60,96.20 154.80,113.10 69.30,124.50" fill="#f6f6f6" stroke="#1e1e1e" stroke-width="1.15" stroke-linejoin="round"/>
<g fill="#333" stroke="#333" stroke-width="0.4" stroke-linejoin="round"><polygon points="63.51,106.13 67.90,105.64 69.82,108.74 65.39,109.25"/><polygon points="69.71,105.44 83.73,103.87 85.78,106.89 71.64,108.52"/><polygon points="85.94,103.62 99.45,102.11 101.63,105.05 88.01,106.63"/><polygon points="101.75,101.85 114.79,100.39 117.08,103.27 103.94,104.79"/><polygon points="117.31,100.11 127.01,99.02 129.39,101.84 119.63,102.97"/><polygon points="67.02,110.35 115.92,104.62 124.36,115.30 74.02,121.90"/><polygon points="118.29,104.34 128.14,103.19 131.91,107.71 121.96,108.93"/><polygon points="126.00,109.82 129.97,109.33 132.21,112.03 128.21,112.54"/><polygon points="124.57,112.21 134.61,110.93 136.89,113.65 126.79,114.98"/></g>
<g fill="#fff"><polygon points="65.09,106.77 67.26,106.52 68.23,108.09 66.04,108.34"/><polygon points="71.28,106.07 73.43,105.83 74.42,107.38 72.26,107.63"/><polygon points="74.57,105.70 76.70,105.46 77.70,107.00 75.56,107.25"/><polygon points="77.83,105.33 79.94,105.09 80.96,106.63 78.84,106.87"/><polygon points="81.06,104.97 83.16,104.73 84.20,106.26 82.08,106.50"/><polygon points="87.50,104.24 89.57,104.00 90.63,105.52 88.55,105.76"/><polygon points="90.67,103.88 92.72,103.65 93.80,105.16 91.73,105.39"/><polygon points="93.81,103.53 95.85,103.30 96.94,104.80 94.89,105.03"/><polygon points="96.93,103.17 98.96,102.94 100.06,104.44 98.02,104.67"/><polygon points="103.31,102.45 105.31,102.23 106.43,103.71 104.42,103.94"/><polygon points="106.36,102.11 108.34,101.89 109.48,103.36 107.49,103.59"/><polygon points="109.39,101.77 111.36,101.54 112.51,103.01 110.53,103.24"/><polygon points="112.40,101.43 114.35,101.21 115.51,102.66 113.55,102.89"/><polygon points="118.87,100.70 120.79,100.48 121.97,101.92 120.04,102.14"/><polygon points="121.81,100.36 123.72,100.15 124.91,101.59 122.99,101.81"/><polygon points="124.73,100.03 126.63,99.82 127.83,101.25 125.93,101.47"/><polygon points="68.62,111.01 70.82,110.75 71.60,112.00 69.39,112.27"/><polygon points="71.99,110.61 74.17,110.35 74.96,111.60 72.77,111.86"/><polygon points="75.32,110.21 77.49,109.96 78.29,111.20 76.12,111.46"/><polygon points="78.64,109.82 80.79,109.57 81.60,110.81 79.44,111.06"/><polygon points="81.92,109.43 84.06,109.18 84.88,110.41 82.74,110.67"/><polygon points="85.19,109.05 87.31,108.80 88.14,110.02 86.01,110.28"/><polygon points="88.43,108.67 90.53,108.42 91.37,109.64 89.26,109.89"/><polygon points="91.64,108.29 93.73,108.04 94.58,109.25 92.49,109.50"/><polygon points="94.84,107.91 96.91,107.66 97.77,108.87 95.69,109.12"/><polygon points="98.00,107.54 100.06,107.29 100.93,108.49 98.87,108.74"/><polygon points="101.15,107.16 103.19,106.92 104.08,108.12 102.03,108.36"/><polygon points="104.27,106.79 106.30,106.56 107.19,107.74 105.16,107.99"/><polygon points="107.37,106.43 109.39,106.19 110.29,107.37 108.27,107.62"/><polygon points="110.45,106.06 112.45,105.83 113.36,107.01 111.36,107.25"/><polygon points="113.51,105.70 115.49,105.47 116.41,106.64 114.42,106.88"/><polygon points="69.90,113.10 72.11,112.83 72.90,114.11 70.68,114.38"/><polygon points="73.28,112.69 75.48,112.43 76.28,113.69 74.08,113.96"/><polygon points="76.64,112.29 78.82,112.02 79.63,113.28 77.44,113.55"/><polygon points="79.97,111.88 82.13,111.62 82.96,112.88 80.79,113.14"/><polygon points="83.28,111.49 85.42,111.23 86.26,112.47 84.10,112.74"/><polygon points="86.56,111.09 88.69,110.83 89.53,112.07 87.40,112.34"/><polygon points="89.82,110.70 91.93,110.44 92.79,111.68 90.66,111.94"/><polygon points="93.05,110.31 95.15,110.05 96.01,111.28 93.91,111.54"/><polygon points="96.26,109.92 98.34,109.67 99.22,110.89 97.13,111.15"/><polygon points="99.44,109.54 101.51,109.29 102.40,110.50 100.32,110.76"/><polygon points="102.61,109.15 104.66,108.91 105.55,110.12 103.49,110.37"/><polygon points="105.74,108.78 107.78,108.53 108.69,109.73 106.64,109.98"/><polygon points="108.86,108.40 110.88,108.16 111.80,109.35 109.77,109.60"/><polygon points="111.95,108.03 113.96,107.78 114.89,108.98 112.87,109.22"/><polygon points="115.03,107.66 117.02,107.42 117.95,108.60 115.95,108.85"/><polygon points="71.20,115.22 73.42,114.95 74.22,116.24 71.99,116.52"/><polygon points="74.60,114.80 76.81,114.53 77.62,115.82 75.40,116.09"/><polygon points="77.97,114.39 80.17,114.12 80.99,115.40 78.79,115.67"/><polygon points="81.32,113.98 83.50,113.71 84.33,114.98 82.15,115.25"/><polygon points="84.65,113.57 86.81,113.30 87.65,114.57 85.49,114.84"/><polygon points="87.95,113.16 90.09,112.90 90.95,114.16 88.80,114.42"/><polygon points="91.22,112.76 93.35,112.49 94.22,113.75 92.08,114.01"/><polygon points="94.47,112.36 96.59,112.10 97.46,113.34 95.34,113.61"/><polygon points="97.70,111.96 99.80,111.70 100.68,112.94 98.58,113.20"/><polygon points="100.90,111.56 102.98,111.31 103.88,112.54 101.79,112.80"/><polygon points="104.08,111.17 106.15,110.92 107.05,112.15 104.98,112.40"/><polygon points="107.24,110.78 109.29,110.53 110.20,111.75 108.15,112.01"/><polygon points="110.37,110.40 112.40,110.15 113.33,111.36 111.29,111.62"/><polygon points="113.48,110.01 115.50,109.77 116.43,110.98 114.41,111.23"/><polygon points="116.57,109.63 118.57,109.39 119.52,110.59 117.51,110.84"/><polygon points="72.51,117.38 74.75,117.10 75.56,118.41 73.32,118.70"/><polygon points="75.93,116.95 78.16,116.67 78.98,117.97 76.75,118.26"/><polygon points="79.33,116.52 81.53,116.24 82.37,117.54 80.16,117.82"/><polygon points="82.70,116.10 84.89,115.82 85.73,117.11 83.54,117.39"/><polygon points="86.04,115.68 88.21,115.40 89.07,116.69 86.89,116.97"/><polygon points="89.36,115.26 91.51,114.99 92.38,116.27 90.22,116.54"/><polygon points="92.65,114.85 94.79,114.58 95.67,115.85 93.52,116.12"/><polygon points="95.92,114.43 98.04,114.17 98.93,115.43 96.80,115.70"/><polygon points="99.16,114.03 101.27,113.76 102.17,115.02 100.06,115.29"/><polygon points="102.38,113.62 104.47,113.36 105.38,114.61 103.29,114.88"/><polygon points="105.58,113.22 107.65,112.96 108.57,114.20 106.49,114.47"/><polygon points="108.75,112.82 110.81,112.56 111.74,113.80 109.67,114.06"/><polygon points="111.90,112.42 113.94,112.17 114.88,113.40 112.83,113.66"/><polygon points="115.02,112.03 117.05,111.78 118.00,113.00 115.97,113.26"/><polygon points="118.13,111.64 120.14,111.39 121.10,112.61 119.08,112.86"/><polygon points="73.85,119.57 76.10,119.28 76.92,120.61 74.66,120.90"/><polygon points="77.29,119.12 79.52,118.84 80.36,120.16 78.12,120.45"/><polygon points="80.70,118.69 82.92,118.40 83.77,119.72 81.54,120.01"/><polygon points="84.05,118.26 106.03,115.43 106.95,116.70 84.90,119.57" fill="#d9d9d9"/><polygon points="107.10,115.29 109.18,115.03 110.12,116.29 108.02,116.56"/><polygon points="110.29,114.89 112.36,114.62 113.30,115.88 111.22,116.15"/><polygon points="113.45,114.48 115.51,114.21 116.46,115.46 114.40,115.73"/><polygon points="116.59,114.08 118.63,113.81 119.59,115.06 117.55,115.32"/><polygon points="119.71,113.67 121.73,113.41 122.71,114.65 120.68,114.92"/><polygon points="119.87,104.95 121.83,104.72 122.77,105.88 120.81,106.12"/><polygon points="122.86,104.60 124.80,104.37 125.75,105.52 123.80,105.76"/><polygon points="125.83,104.25 127.75,104.02 128.71,105.17 126.78,105.40"/><polygon points="121.42,106.88 123.39,106.65 124.34,107.82 122.37,108.06"/><polygon points="124.43,106.52 126.38,106.29 127.34,107.46 125.38,107.70"/><polygon points="127.41,106.16 129.34,105.93 130.31,107.09 128.37,107.33"/><polygon points="127.62,110.45 129.59,110.20 130.58,111.40 128.60,111.65"/><polygon points="126.20,112.84 128.20,112.58 129.19,113.81 127.19,114.07"/><polygon points="129.25,112.45 131.23,112.19 132.23,113.41 130.25,113.67"/><polygon points="132.28,112.06 134.24,111.81 135.25,113.02 133.28,113.28"/></g>
<polygon points="133.5,104.4 141.7,103.8 148.2,112.9 136,114.5" fill="#efefef" stroke="#8a8a8a" stroke-width="0.6" stroke-linejoin="round"/>
<polyline points="133.5,104.4 136,114.5 148.2,112.9" fill="none" stroke="#333" stroke-width="0.8" stroke-linejoin="round"/>
<ellipse cx="136.49" cy="99.66" rx="1.5" ry="1.25" fill="#fff" stroke="#333" stroke-width="0.8"/>
</g>
<g transform="translate(0.9 243.9)">

 <!-- tower -->
 <rect x="0.1" y="0.4" width="40.6" height="92.7" rx="0.7" fill="#f7f7f7" stroke="#262626" stroke-width="1"/>
 <line x1="0.7" y1="7.5" x2="40.1" y2="7.5" stroke="#c4c4c4" stroke-width="0.8"/>
 <line x1="0.7" y1="12.5" x2="40.1" y2="12.5" stroke="#8a8a8a" stroke-width="0.7"/>
 <line x1="0.1" y1="25.2" x2="40.7" y2="25.2" stroke="#262626" stroke-width="1.4"/>
 <rect x="8.6" y="6.65" width="23.5" height="1.7" rx="0.4" fill="#141414"/>
 <rect x="8.6" y="17.95" width="23.5" height="1.7" rx="0.4" fill="#141414"/>
 <rect x="8.6" y="29.75" width="23.5" height="1.7" rx="0.4" fill="#141414"/>
 <rect x="1.3" y="67.8" width="38.2" height="22.1" fill="#474747"/>
 <g stroke="#6f6f6f" stroke-width="0.7">
  <line x1="1.3" y1="71" x2="39.5" y2="71"/><line x1="1.3" y1="74.3" x2="39.5" y2="74.3"/>
  <line x1="1.3" y1="77.7" x2="39.5" y2="77.7"/><line x1="1.3" y1="81.1" x2="39.5" y2="81.1"/>
  <line x1="1.3" y1="84.5" x2="39.5" y2="84.5"/><line x1="1.3" y1="87.8" x2="39.5" y2="87.8"/>
 </g>
 <rect x="0.7" y="89.9" width="39.4" height="2.6" fill="#fdfdfd"/>
 <rect x="0.1" y="0.4" width="40.6" height="92.7" rx="0.7" fill="none" stroke="#262626" stroke-width="1"/>

 <!-- monitor base plate -->
 <polygon points="54.3,91.3 75.3,103 123.4,98.6 123.3,97 75.3,101.3 54.6,89.8" fill="#777" stroke="#222" stroke-width="1.1" stroke-linejoin="round"/>
 <polygon points="54.8,89.6 100,88.2 123.3,97.1 75.3,101.3" fill="#f8f8f8" stroke="#222" stroke-width="1.2" stroke-linejoin="round"/>
 <!-- stand block -->
 <polygon points="69.5,86.6 112.9,86.6 112.9,93.2 107.6,97.3 72.4,97.3 69.5,94.6" fill="#ececec" stroke="#222" stroke-width="1" stroke-linejoin="round"/>
 <rect x="72.4" y="86.6" width="35.2" height="1.6" fill="#4d4d4d"/>
 <rect x="72.4" y="88.2" width="35.2" height="3" fill="#9e9e9e"/>
 <rect x="72.4" y="91.2" width="35.2" height="5.6" fill="#dedede"/>
 <line x1="72.4" y1="86.6" x2="72.4" y2="97.2" stroke="#777" stroke-width="0.6"/>
 <line x1="107.6" y1="86.6" x2="107.6" y2="97.2" stroke="#333" stroke-width="0.8"/>
 <!-- neck shadow -->
 <rect x="62.9" y="84.4" width="55.8" height="2.2" fill="#3a3a3a"/>
 <!-- monitor body -->
 <rect x="57" y="29.9" width="67.3" height="54.5" rx="2.3" fill="#e7e7e7" stroke="#262626" stroke-width="1.35"/>
 <rect x="59" y="31.6" width="63.3" height="3.2" rx="1.2" fill="#f2f2f2"/>
 <rect x="58.4" y="31.6" width="3.6" height="50" rx="1.2" fill="#efefef"/>
 <path d="M58,30.1 H123.3" fill="none" stroke="#1f1f1f" stroke-width="2"/>
 <path d="M58.6,84.3 H122.7" fill="none" stroke="#1f1f1f" stroke-width="1.7"/>
 <rect x="64.9" y="37" width="52" height="40" rx="1" fill="#a9a9a9"/>
 <rect x="66.2" y="38" width="48.8" height="37.6" rx="0.6" fill="#151515"/>
 <rect x="68.7" y="40" width="44.2" height="34.1" fill="#fff"/>
 <ellipse cx="67.7" cy="79.6" rx="1.2" ry="1" fill="#6a6a6a"/>
 <rect x="110.2" y="78.5" width="4.8" height="1.8" fill="#7a7a7a"/>
 <!-- keyboard -->
<polygon points="57.80,106.10 69.2,128.1 155.5,117.6 154.80,113.10 69.30,124.50" fill="#d2d2d2" stroke="#1e1e1e" stroke-width="1.2" stroke-linejoin="round"/>
<polygon points="57.80,106.10 69.2,128.1 69.30,124.50" fill="#2a2a2a"/>
<polyline points="69.6,126.3 155.2,115.4" fill="none" stroke="#f2f2f2" stroke-width="1"/>
<polygon points="58.8,115.9 61.6,115.3 63.4,118.4 61.8,119.2" fill="#1e1e1e"/>
<polygon points="58.00,105.20 139.60,96.20 154.80,113.10 69.30,124.50" fill="#f6f6f6" stroke="#1e1e1e" stroke-width="1.15" stroke-linejoin="round"/>
<g fill="#333" stroke="#333" stroke-width="0.4" stroke-linejoin="round"><polygon points="63.51,106.13 67.90,105.64 69.82,108.74 65.39,109.25"/><polygon points="69.71,105.44 83.73,103.87 85.78,106.89 71.64,108.52"/><polygon points="85.94,103.62 99.45,102.11 101.63,105.05 88.01,106.63"/><polygon points="101.75,101.85 114.79,100.39 117.08,103.27 103.94,104.79"/><polygon points="117.31,100.11 127.01,99.02 129.39,101.84 119.63,102.97"/><polygon points="67.02,110.35 115.92,104.62 124.36,115.30 74.02,121.90"/><polygon points="118.29,104.34 128.14,103.19 131.91,107.71 121.96,108.93"/><polygon points="126.00,109.82 129.97,109.33 132.21,112.03 128.21,112.54"/><polygon points="124.57,112.21 134.61,110.93 136.89,113.65 126.79,114.98"/></g>
<g fill="#fff"><polygon points="65.09,106.77 67.26,106.52 68.23,108.09 66.04,108.34"/><polygon points="71.28,106.07 73.43,105.83 74.42,107.38 72.26,107.63"/><polygon points="74.57,105.70 76.70,105.46 77.70,107.00 75.56,107.25"/><polygon points="77.83,105.33 79.94,105.09 80.96,106.63 78.84,106.87"/><polygon points="81.06,104.97 83.16,104.73 84.20,106.26 82.08,106.50"/><polygon points="87.50,104.24 89.57,104.00 90.63,105.52 88.55,105.76"/><polygon points="90.67,103.88 92.72,103.65 93.80,105.16 91.73,105.39"/><polygon points="93.81,103.53 95.85,103.30 96.94,104.80 94.89,105.03"/><polygon points="96.93,103.17 98.96,102.94 100.06,104.44 98.02,104.67"/><polygon points="103.31,102.45 105.31,102.23 106.43,103.71 104.42,103.94"/><polygon points="106.36,102.11 108.34,101.89 109.48,103.36 107.49,103.59"/><polygon points="109.39,101.77 111.36,101.54 112.51,103.01 110.53,103.24"/><polygon points="112.40,101.43 114.35,101.21 115.51,102.66 113.55,102.89"/><polygon points="118.87,100.70 120.79,100.48 121.97,101.92 120.04,102.14"/><polygon points="121.81,100.36 123.72,100.15 124.91,101.59 122.99,101.81"/><polygon points="124.73,100.03 126.63,99.82 127.83,101.25 125.93,101.47"/><polygon points="68.62,111.01 70.82,110.75 71.60,112.00 69.39,112.27"/><polygon points="71.99,110.61 74.17,110.35 74.96,111.60 72.77,111.86"/><polygon points="75.32,110.21 77.49,109.96 78.29,111.20 76.12,111.46"/><polygon points="78.64,109.82 80.79,109.57 81.60,110.81 79.44,111.06"/><polygon points="81.92,109.43 84.06,109.18 84.88,110.41 82.74,110.67"/><polygon points="85.19,109.05 87.31,108.80 88.14,110.02 86.01,110.28"/><polygon points="88.43,108.67 90.53,108.42 91.37,109.64 89.26,109.89"/><polygon points="91.64,108.29 93.73,108.04 94.58,109.25 92.49,109.50"/><polygon points="94.84,107.91 96.91,107.66 97.77,108.87 95.69,109.12"/><polygon points="98.00,107.54 100.06,107.29 100.93,108.49 98.87,108.74"/><polygon points="101.15,107.16 103.19,106.92 104.08,108.12 102.03,108.36"/><polygon points="104.27,106.79 106.30,106.56 107.19,107.74 105.16,107.99"/><polygon points="107.37,106.43 109.39,106.19 110.29,107.37 108.27,107.62"/><polygon points="110.45,106.06 112.45,105.83 113.36,107.01 111.36,107.25"/><polygon points="113.51,105.70 115.49,105.47 116.41,106.64 114.42,106.88"/><polygon points="69.90,113.10 72.11,112.83 72.90,114.11 70.68,114.38"/><polygon points="73.28,112.69 75.48,112.43 76.28,113.69 74.08,113.96"/><polygon points="76.64,112.29 78.82,112.02 79.63,113.28 77.44,113.55"/><polygon points="79.97,111.88 82.13,111.62 82.96,112.88 80.79,113.14"/><polygon points="83.28,111.49 85.42,111.23 86.26,112.47 84.10,112.74"/><polygon points="86.56,111.09 88.69,110.83 89.53,112.07 87.40,112.34"/><polygon points="89.82,110.70 91.93,110.44 92.79,111.68 90.66,111.94"/><polygon points="93.05,110.31 95.15,110.05 96.01,111.28 93.91,111.54"/><polygon points="96.26,109.92 98.34,109.67 99.22,110.89 97.13,111.15"/><polygon points="99.44,109.54 101.51,109.29 102.40,110.50 100.32,110.76"/><polygon points="102.61,109.15 104.66,108.91 105.55,110.12 103.49,110.37"/><polygon points="105.74,108.78 107.78,108.53 108.69,109.73 106.64,109.98"/><polygon points="108.86,108.40 110.88,108.16 111.80,109.35 109.77,109.60"/><polygon points="111.95,108.03 113.96,107.78 114.89,108.98 112.87,109.22"/><polygon points="115.03,107.66 117.02,107.42 117.95,108.60 115.95,108.85"/><polygon points="71.20,115.22 73.42,114.95 74.22,116.24 71.99,116.52"/><polygon points="74.60,114.80 76.81,114.53 77.62,115.82 75.40,116.09"/><polygon points="77.97,114.39 80.17,114.12 80.99,115.40 78.79,115.67"/><polygon points="81.32,113.98 83.50,113.71 84.33,114.98 82.15,115.25"/><polygon points="84.65,113.57 86.81,113.30 87.65,114.57 85.49,114.84"/><polygon points="87.95,113.16 90.09,112.90 90.95,114.16 88.80,114.42"/><polygon points="91.22,112.76 93.35,112.49 94.22,113.75 92.08,114.01"/><polygon points="94.47,112.36 96.59,112.10 97.46,113.34 95.34,113.61"/><polygon points="97.70,111.96 99.80,111.70 100.68,112.94 98.58,113.20"/><polygon points="100.90,111.56 102.98,111.31 103.88,112.54 101.79,112.80"/><polygon points="104.08,111.17 106.15,110.92 107.05,112.15 104.98,112.40"/><polygon points="107.24,110.78 109.29,110.53 110.20,111.75 108.15,112.01"/><polygon points="110.37,110.40 112.40,110.15 113.33,111.36 111.29,111.62"/><polygon points="113.48,110.01 115.50,109.77 116.43,110.98 114.41,111.23"/><polygon points="116.57,109.63 118.57,109.39 119.52,110.59 117.51,110.84"/><polygon points="72.51,117.38 74.75,117.10 75.56,118.41 73.32,118.70"/><polygon points="75.93,116.95 78.16,116.67 78.98,117.97 76.75,118.26"/><polygon points="79.33,116.52 81.53,116.24 82.37,117.54 80.16,117.82"/><polygon points="82.70,116.10 84.89,115.82 85.73,117.11 83.54,117.39"/><polygon points="86.04,115.68 88.21,115.40 89.07,116.69 86.89,116.97"/><polygon points="89.36,115.26 91.51,114.99 92.38,116.27 90.22,116.54"/><polygon points="92.65,114.85 94.79,114.58 95.67,115.85 93.52,116.12"/><polygon points="95.92,114.43 98.04,114.17 98.93,115.43 96.80,115.70"/><polygon points="99.16,114.03 101.27,113.76 102.17,115.02 100.06,115.29"/><polygon points="102.38,113.62 104.47,113.36 105.38,114.61 103.29,114.88"/><polygon points="105.58,113.22 107.65,112.96 108.57,114.20 106.49,114.47"/><polygon points="108.75,112.82 110.81,112.56 111.74,113.80 109.67,114.06"/><polygon points="111.90,112.42 113.94,112.17 114.88,113.40 112.83,113.66"/><polygon points="115.02,112.03 117.05,111.78 118.00,113.00 115.97,113.26"/><polygon points="118.13,111.64 120.14,111.39 121.10,112.61 119.08,112.86"/><polygon points="73.85,119.57 76.10,119.28 76.92,120.61 74.66,120.90"/><polygon points="77.29,119.12 79.52,118.84 80.36,120.16 78.12,120.45"/><polygon points="80.70,118.69 82.92,118.40 83.77,119.72 81.54,120.01"/><polygon points="84.05,118.26 106.03,115.43 106.95,116.70 84.90,119.57" fill="#d9d9d9"/><polygon points="107.10,115.29 109.18,115.03 110.12,116.29 108.02,116.56"/><polygon points="110.29,114.89 112.36,114.62 113.30,115.88 111.22,116.15"/><polygon points="113.45,114.48 115.51,114.21 116.46,115.46 114.40,115.73"/><polygon points="116.59,114.08 118.63,113.81 119.59,115.06 117.55,115.32"/><polygon points="119.71,113.67 121.73,113.41 122.71,114.65 120.68,114.92"/><polygon points="119.87,104.95 121.83,104.72 122.77,105.88 120.81,106.12"/><polygon points="122.86,104.60 124.80,104.37 125.75,105.52 123.80,105.76"/><polygon points="125.83,104.25 127.75,104.02 128.71,105.17 126.78,105.40"/><polygon points="121.42,106.88 123.39,106.65 124.34,107.82 122.37,108.06"/><polygon points="124.43,106.52 126.38,106.29 127.34,107.46 125.38,107.70"/><polygon points="127.41,106.16 129.34,105.93 130.31,107.09 128.37,107.33"/><polygon points="127.62,110.45 129.59,110.20 130.58,111.40 128.60,111.65"/><polygon points="126.20,112.84 128.20,112.58 129.19,113.81 127.19,114.07"/><polygon points="129.25,112.45 131.23,112.19 132.23,113.41 130.25,113.67"/><polygon points="132.28,112.06 134.24,111.81 135.25,113.02 133.28,113.28"/></g>
<polygon points="133.5,104.4 141.7,103.8 148.2,112.9 136,114.5" fill="#efefef" stroke="#8a8a8a" stroke-width="0.6" stroke-linejoin="round"/>
<polyline points="133.5,104.4 136,114.5 148.2,112.9" fill="none" stroke="#333" stroke-width="0.8" stroke-linejoin="round"/>
<ellipse cx="136.49" cy="99.66" rx="1.5" ry="1.25" fill="#fff" stroke="#333" stroke-width="0.8"/>
</g>
<g transform="translate(508.9 243.9)">

 <!-- tower -->
 <rect x="0.1" y="0.4" width="40.6" height="92.7" rx="0.7" fill="#f7f7f7" stroke="#262626" stroke-width="1"/>
 <line x1="0.7" y1="7.5" x2="40.1" y2="7.5" stroke="#c4c4c4" stroke-width="0.8"/>
 <line x1="0.7" y1="12.5" x2="40.1" y2="12.5" stroke="#8a8a8a" stroke-width="0.7"/>
 <line x1="0.1" y1="25.2" x2="40.7" y2="25.2" stroke="#262626" stroke-width="1.4"/>
 <rect x="8.6" y="6.65" width="23.5" height="1.7" rx="0.4" fill="#141414"/>
 <rect x="8.6" y="17.95" width="23.5" height="1.7" rx="0.4" fill="#141414"/>
 <rect x="8.6" y="29.75" width="23.5" height="1.7" rx="0.4" fill="#141414"/>
 <rect x="1.3" y="67.8" width="38.2" height="22.1" fill="#474747"/>
 <g stroke="#6f6f6f" stroke-width="0.7">
  <line x1="1.3" y1="71" x2="39.5" y2="71"/><line x1="1.3" y1="74.3" x2="39.5" y2="74.3"/>
  <line x1="1.3" y1="77.7" x2="39.5" y2="77.7"/><line x1="1.3" y1="81.1" x2="39.5" y2="81.1"/>
  <line x1="1.3" y1="84.5" x2="39.5" y2="84.5"/><line x1="1.3" y1="87.8" x2="39.5" y2="87.8"/>
 </g>
 <rect x="0.7" y="89.9" width="39.4" height="2.6" fill="#fdfdfd"/>
 <rect x="0.1" y="0.4" width="40.6" height="92.7" rx="0.7" fill="none" stroke="#262626" stroke-width="1"/>

 <!-- monitor base plate -->
 <polygon points="54.3,91.3 75.3,103 123.4,98.6 123.3,97 75.3,101.3 54.6,89.8" fill="#777" stroke="#222" stroke-width="1.1" stroke-linejoin="round"/>
 <polygon points="54.8,89.6 100,88.2 123.3,97.1 75.3,101.3" fill="#f8f8f8" stroke="#222" stroke-width="1.2" stroke-linejoin="round"/>
 <!-- stand block -->
 <polygon points="69.5,86.6 112.9,86.6 112.9,93.2 107.6,97.3 72.4,97.3 69.5,94.6" fill="#ececec" stroke="#222" stroke-width="1" stroke-linejoin="round"/>
 <rect x="72.4" y="86.6" width="35.2" height="1.6" fill="#4d4d4d"/>
 <rect x="72.4" y="88.2" width="35.2" height="3" fill="#9e9e9e"/>
 <rect x="72.4" y="91.2" width="35.2" height="5.6" fill="#dedede"/>
 <line x1="72.4" y1="86.6" x2="72.4" y2="97.2" stroke="#777" stroke-width="0.6"/>
 <line x1="107.6" y1="86.6" x2="107.6" y2="97.2" stroke="#333" stroke-width="0.8"/>
 <!-- neck shadow -->
 <rect x="62.9" y="84.4" width="55.8" height="2.2" fill="#3a3a3a"/>
 <!-- monitor body -->
 <rect x="57" y="29.9" width="67.3" height="54.5" rx="2.3" fill="#e7e7e7" stroke="#262626" stroke-width="1.35"/>
 <rect x="59" y="31.6" width="63.3" height="3.2" rx="1.2" fill="#f2f2f2"/>
 <rect x="58.4" y="31.6" width="3.6" height="50" rx="1.2" fill="#efefef"/>
 <path d="M58,30.1 H123.3" fill="none" stroke="#1f1f1f" stroke-width="2"/>
 <path d="M58.6,84.3 H122.7" fill="none" stroke="#1f1f1f" stroke-width="1.7"/>
 <rect x="64.9" y="37" width="52" height="40" rx="1" fill="#a9a9a9"/>
 <rect x="66.2" y="38" width="48.8" height="37.6" rx="0.6" fill="#151515"/>
 <rect x="68.7" y="40" width="44.2" height="34.1" fill="#fff"/>
 <ellipse cx="67.7" cy="79.6" rx="1.2" ry="1" fill="#6a6a6a"/>
 <rect x="110.2" y="78.5" width="4.8" height="1.8" fill="#7a7a7a"/>
 <!-- keyboard -->
<polygon points="57.80,106.10 69.2,128.1 155.5,117.6 154.80,113.10 69.30,124.50" fill="#d2d2d2" stroke="#1e1e1e" stroke-width="1.2" stroke-linejoin="round"/>
<polygon points="57.80,106.10 69.2,128.1 69.30,124.50" fill="#2a2a2a"/>
<polyline points="69.6,126.3 155.2,115.4" fill="none" stroke="#f2f2f2" stroke-width="1"/>
<polygon points="58.8,115.9 61.6,115.3 63.4,118.4 61.8,119.2" fill="#1e1e1e"/>
<polygon points="58.00,105.20 139.60,96.20 154.80,113.10 69.30,124.50" fill="#f6f6f6" stroke="#1e1e1e" stroke-width="1.15" stroke-linejoin="round"/>
<g fill="#333" stroke="#333" stroke-width="0.4" stroke-linejoin="round"><polygon points="63.51,106.13 67.90,105.64 69.82,108.74 65.39,109.25"/><polygon points="69.71,105.44 83.73,103.87 85.78,106.89 71.64,108.52"/><polygon points="85.94,103.62 99.45,102.11 101.63,105.05 88.01,106.63"/><polygon points="101.75,101.85 114.79,100.39 117.08,103.27 103.94,104.79"/><polygon points="117.31,100.11 127.01,99.02 129.39,101.84 119.63,102.97"/><polygon points="67.02,110.35 115.92,104.62 124.36,115.30 74.02,121.90"/><polygon points="118.29,104.34 128.14,103.19 131.91,107.71 121.96,108.93"/><polygon points="126.00,109.82 129.97,109.33 132.21,112.03 128.21,112.54"/><polygon points="124.57,112.21 134.61,110.93 136.89,113.65 126.79,114.98"/></g>
<g fill="#fff"><polygon points="65.09,106.77 67.26,106.52 68.23,108.09 66.04,108.34"/><polygon points="71.28,106.07 73.43,105.83 74.42,107.38 72.26,107.63"/><polygon points="74.57,105.70 76.70,105.46 77.70,107.00 75.56,107.25"/><polygon points="77.83,105.33 79.94,105.09 80.96,106.63 78.84,106.87"/><polygon points="81.06,104.97 83.16,104.73 84.20,106.26 82.08,106.50"/><polygon points="87.50,104.24 89.57,104.00 90.63,105.52 88.55,105.76"/><polygon points="90.67,103.88 92.72,103.65 93.80,105.16 91.73,105.39"/><polygon points="93.81,103.53 95.85,103.30 96.94,104.80 94.89,105.03"/><polygon points="96.93,103.17 98.96,102.94 100.06,104.44 98.02,104.67"/><polygon points="103.31,102.45 105.31,102.23 106.43,103.71 104.42,103.94"/><polygon points="106.36,102.11 108.34,101.89 109.48,103.36 107.49,103.59"/><polygon points="109.39,101.77 111.36,101.54 112.51,103.01 110.53,103.24"/><polygon points="112.40,101.43 114.35,101.21 115.51,102.66 113.55,102.89"/><polygon points="118.87,100.70 120.79,100.48 121.97,101.92 120.04,102.14"/><polygon points="121.81,100.36 123.72,100.15 124.91,101.59 122.99,101.81"/><polygon points="124.73,100.03 126.63,99.82 127.83,101.25 125.93,101.47"/><polygon points="68.62,111.01 70.82,110.75 71.60,112.00 69.39,112.27"/><polygon points="71.99,110.61 74.17,110.35 74.96,111.60 72.77,111.86"/><polygon points="75.32,110.21 77.49,109.96 78.29,111.20 76.12,111.46"/><polygon points="78.64,109.82 80.79,109.57 81.60,110.81 79.44,111.06"/><polygon points="81.92,109.43 84.06,109.18 84.88,110.41 82.74,110.67"/><polygon points="85.19,109.05 87.31,108.80 88.14,110.02 86.01,110.28"/><polygon points="88.43,108.67 90.53,108.42 91.37,109.64 89.26,109.89"/><polygon points="91.64,108.29 93.73,108.04 94.58,109.25 92.49,109.50"/><polygon points="94.84,107.91 96.91,107.66 97.77,108.87 95.69,109.12"/><polygon points="98.00,107.54 100.06,107.29 100.93,108.49 98.87,108.74"/><polygon points="101.15,107.16 103.19,106.92 104.08,108.12 102.03,108.36"/><polygon points="104.27,106.79 106.30,106.56 107.19,107.74 105.16,107.99"/><polygon points="107.37,106.43 109.39,106.19 110.29,107.37 108.27,107.62"/><polygon points="110.45,106.06 112.45,105.83 113.36,107.01 111.36,107.25"/><polygon points="113.51,105.70 115.49,105.47 116.41,106.64 114.42,106.88"/><polygon points="69.90,113.10 72.11,112.83 72.90,114.11 70.68,114.38"/><polygon points="73.28,112.69 75.48,112.43 76.28,113.69 74.08,113.96"/><polygon points="76.64,112.29 78.82,112.02 79.63,113.28 77.44,113.55"/><polygon points="79.97,111.88 82.13,111.62 82.96,112.88 80.79,113.14"/><polygon points="83.28,111.49 85.42,111.23 86.26,112.47 84.10,112.74"/><polygon points="86.56,111.09 88.69,110.83 89.53,112.07 87.40,112.34"/><polygon points="89.82,110.70 91.93,110.44 92.79,111.68 90.66,111.94"/><polygon points="93.05,110.31 95.15,110.05 96.01,111.28 93.91,111.54"/><polygon points="96.26,109.92 98.34,109.67 99.22,110.89 97.13,111.15"/><polygon points="99.44,109.54 101.51,109.29 102.40,110.50 100.32,110.76"/><polygon points="102.61,109.15 104.66,108.91 105.55,110.12 103.49,110.37"/><polygon points="105.74,108.78 107.78,108.53 108.69,109.73 106.64,109.98"/><polygon points="108.86,108.40 110.88,108.16 111.80,109.35 109.77,109.60"/><polygon points="111.95,108.03 113.96,107.78 114.89,108.98 112.87,109.22"/><polygon points="115.03,107.66 117.02,107.42 117.95,108.60 115.95,108.85"/><polygon points="71.20,115.22 73.42,114.95 74.22,116.24 71.99,116.52"/><polygon points="74.60,114.80 76.81,114.53 77.62,115.82 75.40,116.09"/><polygon points="77.97,114.39 80.17,114.12 80.99,115.40 78.79,115.67"/><polygon points="81.32,113.98 83.50,113.71 84.33,114.98 82.15,115.25"/><polygon points="84.65,113.57 86.81,113.30 87.65,114.57 85.49,114.84"/><polygon points="87.95,113.16 90.09,112.90 90.95,114.16 88.80,114.42"/><polygon points="91.22,112.76 93.35,112.49 94.22,113.75 92.08,114.01"/><polygon points="94.47,112.36 96.59,112.10 97.46,113.34 95.34,113.61"/><polygon points="97.70,111.96 99.80,111.70 100.68,112.94 98.58,113.20"/><polygon points="100.90,111.56 102.98,111.31 103.88,112.54 101.79,112.80"/><polygon points="104.08,111.17 106.15,110.92 107.05,112.15 104.98,112.40"/><polygon points="107.24,110.78 109.29,110.53 110.20,111.75 108.15,112.01"/><polygon points="110.37,110.40 112.40,110.15 113.33,111.36 111.29,111.62"/><polygon points="113.48,110.01 115.50,109.77 116.43,110.98 114.41,111.23"/><polygon points="116.57,109.63 118.57,109.39 119.52,110.59 117.51,110.84"/><polygon points="72.51,117.38 74.75,117.10 75.56,118.41 73.32,118.70"/><polygon points="75.93,116.95 78.16,116.67 78.98,117.97 76.75,118.26"/><polygon points="79.33,116.52 81.53,116.24 82.37,117.54 80.16,117.82"/><polygon points="82.70,116.10 84.89,115.82 85.73,117.11 83.54,117.39"/><polygon points="86.04,115.68 88.21,115.40 89.07,116.69 86.89,116.97"/><polygon points="89.36,115.26 91.51,114.99 92.38,116.27 90.22,116.54"/><polygon points="92.65,114.85 94.79,114.58 95.67,115.85 93.52,116.12"/><polygon points="95.92,114.43 98.04,114.17 98.93,115.43 96.80,115.70"/><polygon points="99.16,114.03 101.27,113.76 102.17,115.02 100.06,115.29"/><polygon points="102.38,113.62 104.47,113.36 105.38,114.61 103.29,114.88"/><polygon points="105.58,113.22 107.65,112.96 108.57,114.20 106.49,114.47"/><polygon points="108.75,112.82 110.81,112.56 111.74,113.80 109.67,114.06"/><polygon points="111.90,112.42 113.94,112.17 114.88,113.40 112.83,113.66"/><polygon points="115.02,112.03 117.05,111.78 118.00,113.00 115.97,113.26"/><polygon points="118.13,111.64 120.14,111.39 121.10,112.61 119.08,112.86"/><polygon points="73.85,119.57 76.10,119.28 76.92,120.61 74.66,120.90"/><polygon points="77.29,119.12 79.52,118.84 80.36,120.16 78.12,120.45"/><polygon points="80.70,118.69 82.92,118.40 83.77,119.72 81.54,120.01"/><polygon points="84.05,118.26 106.03,115.43 106.95,116.70 84.90,119.57" fill="#d9d9d9"/><polygon points="107.10,115.29 109.18,115.03 110.12,116.29 108.02,116.56"/><polygon points="110.29,114.89 112.36,114.62 113.30,115.88 111.22,116.15"/><polygon points="113.45,114.48 115.51,114.21 116.46,115.46 114.40,115.73"/><polygon points="116.59,114.08 118.63,113.81 119.59,115.06 117.55,115.32"/><polygon points="119.71,113.67 121.73,113.41 122.71,114.65 120.68,114.92"/><polygon points="119.87,104.95 121.83,104.72 122.77,105.88 120.81,106.12"/><polygon points="122.86,104.60 124.80,104.37 125.75,105.52 123.80,105.76"/><polygon points="125.83,104.25 127.75,104.02 128.71,105.17 126.78,105.40"/><polygon points="121.42,106.88 123.39,106.65 124.34,107.82 122.37,108.06"/><polygon points="124.43,106.52 126.38,106.29 127.34,107.46 125.38,107.70"/><polygon points="127.41,106.16 129.34,105.93 130.31,107.09 128.37,107.33"/><polygon points="127.62,110.45 129.59,110.20 130.58,111.40 128.60,111.65"/><polygon points="126.20,112.84 128.20,112.58 129.19,113.81 127.19,114.07"/><polygon points="129.25,112.45 131.23,112.19 132.23,113.41 130.25,113.67"/><polygon points="132.28,112.06 134.24,111.81 135.25,113.02 133.28,113.28"/></g>
<polygon points="133.5,104.4 141.7,103.8 148.2,112.9 136,114.5" fill="#efefef" stroke="#8a8a8a" stroke-width="0.6" stroke-linejoin="round"/>
<polyline points="133.5,104.4 136,114.5 148.2,112.9" fill="none" stroke="#333" stroke-width="0.8" stroke-linejoin="round"/>
<ellipse cx="136.49" cy="99.66" rx="1.5" ry="1.25" fill="#fff" stroke="#333" stroke-width="0.8"/>
</g>
<g transform="translate(48.9 414.8)">

 <!-- tower -->
 <rect x="0.1" y="0.4" width="40.6" height="92.7" rx="0.7" fill="#f7f7f7" stroke="#262626" stroke-width="1"/>
 <line x1="0.7" y1="7.5" x2="40.1" y2="7.5" stroke="#c4c4c4" stroke-width="0.8"/>
 <line x1="0.7" y1="12.5" x2="40.1" y2="12.5" stroke="#8a8a8a" stroke-width="0.7"/>
 <line x1="0.1" y1="25.2" x2="40.7" y2="25.2" stroke="#262626" stroke-width="1.4"/>
 <rect x="8.6" y="6.65" width="23.5" height="1.7" rx="0.4" fill="#141414"/>
 <rect x="8.6" y="17.95" width="23.5" height="1.7" rx="0.4" fill="#141414"/>
 <rect x="8.6" y="29.75" width="23.5" height="1.7" rx="0.4" fill="#141414"/>
 <rect x="1.3" y="67.8" width="38.2" height="22.1" fill="#474747"/>
 <g stroke="#6f6f6f" stroke-width="0.7">
  <line x1="1.3" y1="71" x2="39.5" y2="71"/><line x1="1.3" y1="74.3" x2="39.5" y2="74.3"/>
  <line x1="1.3" y1="77.7" x2="39.5" y2="77.7"/><line x1="1.3" y1="81.1" x2="39.5" y2="81.1"/>
  <line x1="1.3" y1="84.5" x2="39.5" y2="84.5"/><line x1="1.3" y1="87.8" x2="39.5" y2="87.8"/>
 </g>
 <rect x="0.7" y="89.9" width="39.4" height="2.6" fill="#fdfdfd"/>
 <rect x="0.1" y="0.4" width="40.6" height="92.7" rx="0.7" fill="none" stroke="#262626" stroke-width="1"/>

 <!-- monitor base plate -->
 <polygon points="54.3,91.3 75.3,103 123.4,98.6 123.3,97 75.3,101.3 54.6,89.8" fill="#777" stroke="#222" stroke-width="1.1" stroke-linejoin="round"/>
 <polygon points="54.8,89.6 100,88.2 123.3,97.1 75.3,101.3" fill="#f8f8f8" stroke="#222" stroke-width="1.2" stroke-linejoin="round"/>
 <!-- stand block -->
 <polygon points="69.5,86.6 112.9,86.6 112.9,93.2 107.6,97.3 72.4,97.3 69.5,94.6" fill="#ececec" stroke="#222" stroke-width="1" stroke-linejoin="round"/>
 <rect x="72.4" y="86.6" width="35.2" height="1.6" fill="#4d4d4d"/>
 <rect x="72.4" y="88.2" width="35.2" height="3" fill="#9e9e9e"/>
 <rect x="72.4" y="91.2" width="35.2" height="5.6" fill="#dedede"/>
 <line x1="72.4" y1="86.6" x2="72.4" y2="97.2" stroke="#777" stroke-width="0.6"/>
 <line x1="107.6" y1="86.6" x2="107.6" y2="97.2" stroke="#333" stroke-width="0.8"/>
 <!-- neck shadow -->
 <rect x="62.9" y="84.4" width="55.8" height="2.2" fill="#3a3a3a"/>
 <!-- monitor body -->
 <rect x="57" y="29.9" width="67.3" height="54.5" rx="2.3" fill="#e7e7e7" stroke="#262626" stroke-width="1.35"/>
 <rect x="59" y="31.6" width="63.3" height="3.2" rx="1.2" fill="#f2f2f2"/>
 <rect x="58.4" y="31.6" width="3.6" height="50" rx="1.2" fill="#efefef"/>
 <path d="M58,30.1 H123.3" fill="none" stroke="#1f1f1f" stroke-width="2"/>
 <path d="M58.6,84.3 H122.7" fill="none" stroke="#1f1f1f" stroke-width="1.7"/>
 <rect x="64.9" y="37" width="52" height="40" rx="1" fill="#a9a9a9"/>
 <rect x="66.2" y="38" width="48.8" height="37.6" rx="0.6" fill="#151515"/>
 <rect x="68.7" y="40" width="44.2" height="34.1" fill="#fff"/>
 <ellipse cx="67.7" cy="79.6" rx="1.2" ry="1" fill="#6a6a6a"/>
 <rect x="110.2" y="78.5" width="4.8" height="1.8" fill="#7a7a7a"/>
 <!-- keyboard -->
<polygon points="57.80,106.10 69.2,128.1 155.5,117.6 154.80,113.10 69.30,124.50" fill="#d2d2d2" stroke="#1e1e1e" stroke-width="1.2" stroke-linejoin="round"/>
<polygon points="57.80,106.10 69.2,128.1 69.30,124.50" fill="#2a2a2a"/>
<polyline points="69.6,126.3 155.2,115.4" fill="none" stroke="#f2f2f2" stroke-width="1"/>
<polygon points="58.8,115.9 61.6,115.3 63.4,118.4 61.8,119.2" fill="#1e1e1e"/>
<polygon points="58.00,105.20 139.60,96.20 154.80,113.10 69.30,124.50" fill="#f6f6f6" stroke="#1e1e1e" stroke-width="1.15" stroke-linejoin="round"/>
<g fill="#333" stroke="#333" stroke-width="0.4" stroke-linejoin="round"><polygon points="63.51,106.13 67.90,105.64 69.82,108.74 65.39,109.25"/><polygon points="69.71,105.44 83.73,103.87 85.78,106.89 71.64,108.52"/><polygon points="85.94,103.62 99.45,102.11 101.63,105.05 88.01,106.63"/><polygon points="101.75,101.85 114.79,100.39 117.08,103.27 103.94,104.79"/><polygon points="117.31,100.11 127.01,99.02 129.39,101.84 119.63,102.97"/><polygon points="67.02,110.35 115.92,104.62 124.36,115.30 74.02,121.90"/><polygon points="118.29,104.34 128.14,103.19 131.91,107.71 121.96,108.93"/><polygon points="126.00,109.82 129.97,109.33 132.21,112.03 128.21,112.54"/><polygon points="124.57,112.21 134.61,110.93 136.89,113.65 126.79,114.98"/></g>
<g fill="#fff"><polygon points="65.09,106.77 67.26,106.52 68.23,108.09 66.04,108.34"/><polygon points="71.28,106.07 73.43,105.83 74.42,107.38 72.26,107.63"/><polygon points="74.57,105.70 76.70,105.46 77.70,107.00 75.56,107.25"/><polygon points="77.83,105.33 79.94,105.09 80.96,106.63 78.84,106.87"/><polygon points="81.06,104.97 83.16,104.73 84.20,106.26 82.08,106.50"/><polygon points="87.50,104.24 89.57,104.00 90.63,105.52 88.55,105.76"/><polygon points="90.67,103.88 92.72,103.65 93.80,105.16 91.73,105.39"/><polygon points="93.81,103.53 95.85,103.30 96.94,104.80 94.89,105.03"/><polygon points="96.93,103.17 98.96,102.94 100.06,104.44 98.02,104.67"/><polygon points="103.31,102.45 105.31,102.23 106.43,103.71 104.42,103.94"/><polygon points="106.36,102.11 108.34,101.89 109.48,103.36 107.49,103.59"/><polygon points="109.39,101.77 111.36,101.54 112.51,103.01 110.53,103.24"/><polygon points="112.40,101.43 114.35,101.21 115.51,102.66 113.55,102.89"/><polygon points="118.87,100.70 120.79,100.48 121.97,101.92 120.04,102.14"/><polygon points="121.81,100.36 123.72,100.15 124.91,101.59 122.99,101.81"/><polygon points="124.73,100.03 126.63,99.82 127.83,101.25 125.93,101.47"/><polygon points="68.62,111.01 70.82,110.75 71.60,112.00 69.39,112.27"/><polygon points="71.99,110.61 74.17,110.35 74.96,111.60 72.77,111.86"/><polygon points="75.32,110.21 77.49,109.96 78.29,111.20 76.12,111.46"/><polygon points="78.64,109.82 80.79,109.57 81.60,110.81 79.44,111.06"/><polygon points="81.92,109.43 84.06,109.18 84.88,110.41 82.74,110.67"/><polygon points="85.19,109.05 87.31,108.80 88.14,110.02 86.01,110.28"/><polygon points="88.43,108.67 90.53,108.42 91.37,109.64 89.26,109.89"/><polygon points="91.64,108.29 93.73,108.04 94.58,109.25 92.49,109.50"/><polygon points="94.84,107.91 96.91,107.66 97.77,108.87 95.69,109.12"/><polygon points="98.00,107.54 100.06,107.29 100.93,108.49 98.87,108.74"/><polygon points="101.15,107.16 103.19,106.92 104.08,108.12 102.03,108.36"/><polygon points="104.27,106.79 106.30,106.56 107.19,107.74 105.16,107.99"/><polygon points="107.37,106.43 109.39,106.19 110.29,107.37 108.27,107.62"/><polygon points="110.45,106.06 112.45,105.83 113.36,107.01 111.36,107.25"/><polygon points="113.51,105.70 115.49,105.47 116.41,106.64 114.42,106.88"/><polygon points="69.90,113.10 72.11,112.83 72.90,114.11 70.68,114.38"/><polygon points="73.28,112.69 75.48,112.43 76.28,113.69 74.08,113.96"/><polygon points="76.64,112.29 78.82,112.02 79.63,113.28 77.44,113.55"/><polygon points="79.97,111.88 82.13,111.62 82.96,112.88 80.79,113.14"/><polygon points="83.28,111.49 85.42,111.23 86.26,112.47 84.10,112.74"/><polygon points="86.56,111.09 88.69,110.83 89.53,112.07 87.40,112.34"/><polygon points="89.82,110.70 91.93,110.44 92.79,111.68 90.66,111.94"/><polygon points="93.05,110.31 95.15,110.05 96.01,111.28 93.91,111.54"/><polygon points="96.26,109.92 98.34,109.67 99.22,110.89 97.13,111.15"/><polygon points="99.44,109.54 101.51,109.29 102.40,110.50 100.32,110.76"/><polygon points="102.61,109.15 104.66,108.91 105.55,110.12 103.49,110.37"/><polygon points="105.74,108.78 107.78,108.53 108.69,109.73 106.64,109.98"/><polygon points="108.86,108.40 110.88,108.16 111.80,109.35 109.77,109.60"/><polygon points="111.95,108.03 113.96,107.78 114.89,108.98 112.87,109.22"/><polygon points="115.03,107.66 117.02,107.42 117.95,108.60 115.95,108.85"/><polygon points="71.20,115.22 73.42,114.95 74.22,116.24 71.99,116.52"/><polygon points="74.60,114.80 76.81,114.53 77.62,115.82 75.40,116.09"/><polygon points="77.97,114.39 80.17,114.12 80.99,115.40 78.79,115.67"/><polygon points="81.32,113.98 83.50,113.71 84.33,114.98 82.15,115.25"/><polygon points="84.65,113.57 86.81,113.30 87.65,114.57 85.49,114.84"/><polygon points="87.95,113.16 90.09,112.90 90.95,114.16 88.80,114.42"/><polygon points="91.22,112.76 93.35,112.49 94.22,113.75 92.08,114.01"/><polygon points="94.47,112.36 96.59,112.10 97.46,113.34 95.34,113.61"/><polygon points="97.70,111.96 99.80,111.70 100.68,112.94 98.58,113.20"/><polygon points="100.90,111.56 102.98,111.31 103.88,112.54 101.79,112.80"/><polygon points="104.08,111.17 106.15,110.92 107.05,112.15 104.98,112.40"/><polygon points="107.24,110.78 109.29,110.53 110.20,111.75 108.15,112.01"/><polygon points="110.37,110.40 112.40,110.15 113.33,111.36 111.29,111.62"/><polygon points="113.48,110.01 115.50,109.77 116.43,110.98 114.41,111.23"/><polygon points="116.57,109.63 118.57,109.39 119.52,110.59 117.51,110.84"/><polygon points="72.51,117.38 74.75,117.10 75.56,118.41 73.32,118.70"/><polygon points="75.93,116.95 78.16,116.67 78.98,117.97 76.75,118.26"/><polygon points="79.33,116.52 81.53,116.24 82.37,117.54 80.16,117.82"/><polygon points="82.70,116.10 84.89,115.82 85.73,117.11 83.54,117.39"/><polygon points="86.04,115.68 88.21,115.40 89.07,116.69 86.89,116.97"/><polygon points="89.36,115.26 91.51,114.99 92.38,116.27 90.22,116.54"/><polygon points="92.65,114.85 94.79,114.58 95.67,115.85 93.52,116.12"/><polygon points="95.92,114.43 98.04,114.17 98.93,115.43 96.80,115.70"/><polygon points="99.16,114.03 101.27,113.76 102.17,115.02 100.06,115.29"/><polygon points="102.38,113.62 104.47,113.36 105.38,114.61 103.29,114.88"/><polygon points="105.58,113.22 107.65,112.96 108.57,114.20 106.49,114.47"/><polygon points="108.75,112.82 110.81,112.56 111.74,113.80 109.67,114.06"/><polygon points="111.90,112.42 113.94,112.17 114.88,113.40 112.83,113.66"/><polygon points="115.02,112.03 117.05,111.78 118.00,113.00 115.97,113.26"/><polygon points="118.13,111.64 120.14,111.39 121.10,112.61 119.08,112.86"/><polygon points="73.85,119.57 76.10,119.28 76.92,120.61 74.66,120.90"/><polygon points="77.29,119.12 79.52,118.84 80.36,120.16 78.12,120.45"/><polygon points="80.70,118.69 82.92,118.40 83.77,119.72 81.54,120.01"/><polygon points="84.05,118.26 106.03,115.43 106.95,116.70 84.90,119.57" fill="#d9d9d9"/><polygon points="107.10,115.29 109.18,115.03 110.12,116.29 108.02,116.56"/><polygon points="110.29,114.89 112.36,114.62 113.30,115.88 111.22,116.15"/><polygon points="113.45,114.48 115.51,114.21 116.46,115.46 114.40,115.73"/><polygon points="116.59,114.08 118.63,113.81 119.59,115.06 117.55,115.32"/><polygon points="119.71,113.67 121.73,113.41 122.71,114.65 120.68,114.92"/><polygon points="119.87,104.95 121.83,104.72 122.77,105.88 120.81,106.12"/><polygon points="122.86,104.60 124.80,104.37 125.75,105.52 123.80,105.76"/><polygon points="125.83,104.25 127.75,104.02 128.71,105.17 126.78,105.40"/><polygon points="121.42,106.88 123.39,106.65 124.34,107.82 122.37,108.06"/><polygon points="124.43,106.52 126.38,106.29 127.34,107.46 125.38,107.70"/><polygon points="127.41,106.16 129.34,105.93 130.31,107.09 128.37,107.33"/><polygon points="127.62,110.45 129.59,110.20 130.58,111.40 128.60,111.65"/><polygon points="126.20,112.84 128.20,112.58 129.19,113.81 127.19,114.07"/><polygon points="129.25,112.45 131.23,112.19 132.23,113.41 130.25,113.67"/><polygon points="132.28,112.06 134.24,111.81 135.25,113.02 133.28,113.28"/></g>
<polygon points="133.5,104.4 141.7,103.8 148.2,112.9 136,114.5" fill="#efefef" stroke="#8a8a8a" stroke-width="0.6" stroke-linejoin="round"/>
<polyline points="133.5,104.4 136,114.5 148.2,112.9" fill="none" stroke="#333" stroke-width="0.8" stroke-linejoin="round"/>
<ellipse cx="136.49" cy="99.66" rx="1.5" ry="1.25" fill="#fff" stroke="#333" stroke-width="0.8"/>
</g>
<g transform="translate(442.4 415.0)">

 <!-- tower -->
 <rect x="0.1" y="0.4" width="40.6" height="92.7" rx="0.7" fill="#f7f7f7" stroke="#262626" stroke-width="1"/>
 <line x1="0.7" y1="7.5" x2="40.1" y2="7.5" stroke="#c4c4c4" stroke-width="0.8"/>
 <line x1="0.7" y1="12.5" x2="40.1" y2="12.5" stroke="#8a8a8a" stroke-width="0.7"/>
 <line x1="0.1" y1="25.2" x2="40.7" y2="25.2" stroke="#262626" stroke-width="1.4"/>
 <rect x="8.6" y="6.65" width="23.5" height="1.7" rx="0.4" fill="#141414"/>
 <rect x="8.6" y="17.95" width="23.5" height="1.7" rx="0.4" fill="#141414"/>
 <rect x="8.6" y="29.75" width="23.5" height="1.7" rx="0.4" fill="#141414"/>
 <rect x="1.3" y="67.8" width="38.2" height="22.1" fill="#474747"/>
 <g stroke="#6f6f6f" stroke-width="0.7">
  <line x1="1.3" y1="71" x2="39.5" y2="71"/><line x1="1.3" y1="74.3" x2="39.5" y2="74.3"/>
  <line x1="1.3" y1="77.7" x2="39.5" y2="77.7"/><line x1="1.3" y1="81.1" x2="39.5" y2="81.1"/>
  <line x1="1.3" y1="84.5" x2="39.5" y2="84.5"/><line x1="1.3" y1="87.8" x2="39.5" y2="87.8"/>
 </g>
 <rect x="0.7" y="89.9" width="39.4" height="2.6" fill="#fdfdfd"/>
 <rect x="0.1" y="0.4" width="40.6" height="92.7" rx="0.7" fill="none" stroke="#262626" stroke-width="1"/>

 <!-- monitor base plate -->
 <polygon points="54.3,91.3 75.3,103 123.4,98.6 123.3,97 75.3,101.3 54.6,89.8" fill="#777" stroke="#222" stroke-width="1.1" stroke-linejoin="round"/>
 <polygon points="54.8,89.6 100,88.2 123.3,97.1 75.3,101.3" fill="#f8f8f8" stroke="#222" stroke-width="1.2" stroke-linejoin="round"/>
 <!-- stand block -->
 <polygon points="69.5,86.6 112.9,86.6 112.9,93.2 107.6,97.3 72.4,97.3 69.5,94.6" fill="#ececec" stroke="#222" stroke-width="1" stroke-linejoin="round"/>
 <rect x="72.4" y="86.6" width="35.2" height="1.6" fill="#4d4d4d"/>
 <rect x="72.4" y="88.2" width="35.2" height="3" fill="#9e9e9e"/>
 <rect x="72.4" y="91.2" width="35.2" height="5.6" fill="#dedede"/>
 <line x1="72.4" y1="86.6" x2="72.4" y2="97.2" stroke="#777" stroke-width="0.6"/>
 <line x1="107.6" y1="86.6" x2="107.6" y2="97.2" stroke="#333" stroke-width="0.8"/>
 <!-- neck shadow -->
 <rect x="62.9" y="84.4" width="55.8" height="2.2" fill="#3a3a3a"/>
 <!-- monitor body -->
 <rect x="57" y="29.9" width="67.3" height="54.5" rx="2.3" fill="#e7e7e7" stroke="#262626" stroke-width="1.35"/>
 <rect x="59" y="31.6" width="63.3" height="3.2" rx="1.2" fill="#f2f2f2"/>
 <rect x="58.4" y="31.6" width="3.6" height="50" rx="1.2" fill="#efefef"/>
 <path d="M58,30.1 H123.3" fill="none" stroke="#1f1f1f" stroke-width="2"/>
 <path d="M58.6,84.3 H122.7" fill="none" stroke="#1f1f1f" stroke-width="1.7"/>
 <rect x="64.9" y="37" width="52" height="40" rx="1" fill="#a9a9a9"/>
 <rect x="66.2" y="38" width="48.8" height="37.6" rx="0.6" fill="#151515"/>
 <rect x="68.7" y="40" width="44.2" height="34.1" fill="#fff"/>
 <ellipse cx="67.7" cy="79.6" rx="1.2" ry="1" fill="#6a6a6a"/>
 <rect x="110.2" y="78.5" width="4.8" height="1.8" fill="#7a7a7a"/>
 <!-- keyboard -->
<polygon points="57.80,106.10 69.2,128.1 155.5,117.6 154.80,113.10 69.30,124.50" fill="#d2d2d2" stroke="#1e1e1e" stroke-width="1.2" stroke-linejoin="round"/>
<polygon points="57.80,106.10 69.2,128.1 69.30,124.50" fill="#2a2a2a"/>
<polyline points="69.6,126.3 155.2,115.4" fill="none" stroke="#f2f2f2" stroke-width="1"/>
<polygon points="58.8,115.9 61.6,115.3 63.4,118.4 61.8,119.2" fill="#1e1e1e"/>
<polygon points="58.00,105.20 139.60,96.20 154.80,113.10 69.30,124.50" fill="#f6f6f6" stroke="#1e1e1e" stroke-width="1.15" stroke-linejoin="round"/>
<g fill="#333" stroke="#333" stroke-width="0.4" stroke-linejoin="round"><polygon points="63.51,106.13 67.90,105.64 69.82,108.74 65.39,109.25"/><polygon points="69.71,105.44 83.73,103.87 85.78,106.89 71.64,108.52"/><polygon points="85.94,103.62 99.45,102.11 101.63,105.05 88.01,106.63"/><polygon points="101.75,101.85 114.79,100.39 117.08,103.27 103.94,104.79"/><polygon points="117.31,100.11 127.01,99.02 129.39,101.84 119.63,102.97"/><polygon points="67.02,110.35 115.92,104.62 124.36,115.30 74.02,121.90"/><polygon points="118.29,104.34 128.14,103.19 131.91,107.71 121.96,108.93"/><polygon points="126.00,109.82 129.97,109.33 132.21,112.03 128.21,112.54"/><polygon points="124.57,112.21 134.61,110.93 136.89,113.65 126.79,114.98"/></g>
<g fill="#fff"><polygon points="65.09,106.77 67.26,106.52 68.23,108.09 66.04,108.34"/><polygon points="71.28,106.07 73.43,105.83 74.42,107.38 72.26,107.63"/><polygon points="74.57,105.70 76.70,105.46 77.70,107.00 75.56,107.25"/><polygon points="77.83,105.33 79.94,105.09 80.96,106.63 78.84,106.87"/><polygon points="81.06,104.97 83.16,104.73 84.20,106.26 82.08,106.50"/><polygon points="87.50,104.24 89.57,104.00 90.63,105.52 88.55,105.76"/><polygon points="90.67,103.88 92.72,103.65 93.80,105.16 91.73,105.39"/><polygon points="93.81,103.53 95.85,103.30 96.94,104.80 94.89,105.03"/><polygon points="96.93,103.17 98.96,102.94 100.06,104.44 98.02,104.67"/><polygon points="103.31,102.45 105.31,102.23 106.43,103.71 104.42,103.94"/><polygon points="106.36,102.11 108.34,101.89 109.48,103.36 107.49,103.59"/><polygon points="109.39,101.77 111.36,101.54 112.51,103.01 110.53,103.24"/><polygon points="112.40,101.43 114.35,101.21 115.51,102.66 113.55,102.89"/><polygon points="118.87,100.70 120.79,100.48 121.97,101.92 120.04,102.14"/><polygon points="121.81,100.36 123.72,100.15 124.91,101.59 122.99,101.81"/><polygon points="124.73,100.03 126.63,99.82 127.83,101.25 125.93,101.47"/><polygon points="68.62,111.01 70.82,110.75 71.60,112.00 69.39,112.27"/><polygon points="71.99,110.61 74.17,110.35 74.96,111.60 72.77,111.86"/><polygon points="75.32,110.21 77.49,109.96 78.29,111.20 76.12,111.46"/><polygon points="78.64,109.82 80.79,109.57 81.60,110.81 79.44,111.06"/><polygon points="81.92,109.43 84.06,109.18 84.88,110.41 82.74,110.67"/><polygon points="85.19,109.05 87.31,108.80 88.14,110.02 86.01,110.28"/><polygon points="88.43,108.67 90.53,108.42 91.37,109.64 89.26,109.89"/><polygon points="91.64,108.29 93.73,108.04 94.58,109.25 92.49,109.50"/><polygon points="94.84,107.91 96.91,107.66 97.77,108.87 95.69,109.12"/><polygon points="98.00,107.54 100.06,107.29 100.93,108.49 98.87,108.74"/><polygon points="101.15,107.16 103.19,106.92 104.08,108.12 102.03,108.36"/><polygon points="104.27,106.79 106.30,106.56 107.19,107.74 105.16,107.99"/><polygon points="107.37,106.43 109.39,106.19 110.29,107.37 108.27,107.62"/><polygon points="110.45,106.06 112.45,105.83 113.36,107.01 111.36,107.25"/><polygon points="113.51,105.70 115.49,105.47 116.41,106.64 114.42,106.88"/><polygon points="69.90,113.10 72.11,112.83 72.90,114.11 70.68,114.38"/><polygon points="73.28,112.69 75.48,112.43 76.28,113.69 74.08,113.96"/><polygon points="76.64,112.29 78.82,112.02 79.63,113.28 77.44,113.55"/><polygon points="79.97,111.88 82.13,111.62 82.96,112.88 80.79,113.14"/><polygon points="83.28,111.49 85.42,111.23 86.26,112.47 84.10,112.74"/><polygon points="86.56,111.09 88.69,110.83 89.53,112.07 87.40,112.34"/><polygon points="89.82,110.70 91.93,110.44 92.79,111.68 90.66,111.94"/><polygon points="93.05,110.31 95.15,110.05 96.01,111.28 93.91,111.54"/><polygon points="96.26,109.92 98.34,109.67 99.22,110.89 97.13,111.15"/><polygon points="99.44,109.54 101.51,109.29 102.40,110.50 100.32,110.76"/><polygon points="102.61,109.15 104.66,108.91 105.55,110.12 103.49,110.37"/><polygon points="105.74,108.78 107.78,108.53 108.69,109.73 106.64,109.98"/><polygon points="108.86,108.40 110.88,108.16 111.80,109.35 109.77,109.60"/><polygon points="111.95,108.03 113.96,107.78 114.89,108.98 112.87,109.22"/><polygon points="115.03,107.66 117.02,107.42 117.95,108.60 115.95,108.85"/><polygon points="71.20,115.22 73.42,114.95 74.22,116.24 71.99,116.52"/><polygon points="74.60,114.80 76.81,114.53 77.62,115.82 75.40,116.09"/><polygon points="77.97,114.39 80.17,114.12 80.99,115.40 78.79,115.67"/><polygon points="81.32,113.98 83.50,113.71 84.33,114.98 82.15,115.25"/><polygon points="84.65,113.57 86.81,113.30 87.65,114.57 85.49,114.84"/><polygon points="87.95,113.16 90.09,112.90 90.95,114.16 88.80,114.42"/><polygon points="91.22,112.76 93.35,112.49 94.22,113.75 92.08,114.01"/><polygon points="94.47,112.36 96.59,112.10 97.46,113.34 95.34,113.61"/><polygon points="97.70,111.96 99.80,111.70 100.68,112.94 98.58,113.20"/><polygon points="100.90,111.56 102.98,111.31 103.88,112.54 101.79,112.80"/><polygon points="104.08,111.17 106.15,110.92 107.05,112.15 104.98,112.40"/><polygon points="107.24,110.78 109.29,110.53 110.20,111.75 108.15,112.01"/><polygon points="110.37,110.40 112.40,110.15 113.33,111.36 111.29,111.62"/><polygon points="113.48,110.01 115.50,109.77 116.43,110.98 114.41,111.23"/><polygon points="116.57,109.63 118.57,109.39 119.52,110.59 117.51,110.84"/><polygon points="72.51,117.38 74.75,117.10 75.56,118.41 73.32,118.70"/><polygon points="75.93,116.95 78.16,116.67 78.98,117.97 76.75,118.26"/><polygon points="79.33,116.52 81.53,116.24 82.37,117.54 80.16,117.82"/><polygon points="82.70,116.10 84.89,115.82 85.73,117.11 83.54,117.39"/><polygon points="86.04,115.68 88.21,115.40 89.07,116.69 86.89,116.97"/><polygon points="89.36,115.26 91.51,114.99 92.38,116.27 90.22,116.54"/><polygon points="92.65,114.85 94.79,114.58 95.67,115.85 93.52,116.12"/><polygon points="95.92,114.43 98.04,114.17 98.93,115.43 96.80,115.70"/><polygon points="99.16,114.03 101.27,113.76 102.17,115.02 100.06,115.29"/><polygon points="102.38,113.62 104.47,113.36 105.38,114.61 103.29,114.88"/><polygon points="105.58,113.22 107.65,112.96 108.57,114.20 106.49,114.47"/><polygon points="108.75,112.82 110.81,112.56 111.74,113.80 109.67,114.06"/><polygon points="111.90,112.42 113.94,112.17 114.88,113.40 112.83,113.66"/><polygon points="115.02,112.03 117.05,111.78 118.00,113.00 115.97,113.26"/><polygon points="118.13,111.64 120.14,111.39 121.10,112.61 119.08,112.86"/><polygon points="73.85,119.57 76.10,119.28 76.92,120.61 74.66,120.90"/><polygon points="77.29,119.12 79.52,118.84 80.36,120.16 78.12,120.45"/><polygon points="80.70,118.69 82.92,118.40 83.77,119.72 81.54,120.01"/><polygon points="84.05,118.26 106.03,115.43 106.95,116.70 84.90,119.57" fill="#d9d9d9"/><polygon points="107.10,115.29 109.18,115.03 110.12,116.29 108.02,116.56"/><polygon points="110.29,114.89 112.36,114.62 113.30,115.88 111.22,116.15"/><polygon points="113.45,114.48 115.51,114.21 116.46,115.46 114.40,115.73"/><polygon points="116.59,114.08 118.63,113.81 119.59,115.06 117.55,115.32"/><polygon points="119.71,113.67 121.73,113.41 122.71,114.65 120.68,114.92"/><polygon points="119.87,104.95 121.83,104.72 122.77,105.88 120.81,106.12"/><polygon points="122.86,104.60 124.80,104.37 125.75,105.52 123.80,105.76"/><polygon points="125.83,104.25 127.75,104.02 128.71,105.17 126.78,105.40"/><polygon points="121.42,106.88 123.39,106.65 124.34,107.82 122.37,108.06"/><polygon points="124.43,106.52 126.38,106.29 127.34,107.46 125.38,107.70"/><polygon points="127.41,106.16 129.34,105.93 130.31,107.09 128.37,107.33"/><polygon points="127.62,110.45 129.59,110.20 130.58,111.40 128.60,111.65"/><polygon points="126.20,112.84 128.20,112.58 129.19,113.81 127.19,114.07"/><polygon points="129.25,112.45 131.23,112.19 132.23,113.41 130.25,113.67"/><polygon points="132.28,112.06 134.24,111.81 135.25,113.02 133.28,113.28"/></g>
<polygon points="133.5,104.4 141.7,103.8 148.2,112.9 136,114.5" fill="#efefef" stroke="#8a8a8a" stroke-width="0.6" stroke-linejoin="round"/>
<polyline points="133.5,104.4 136,114.5 148.2,112.9" fill="none" stroke="#333" stroke-width="0.8" stroke-linejoin="round"/>
<ellipse cx="136.49" cy="99.66" rx="1.5" ry="1.25" fill="#fff" stroke="#333" stroke-width="0.8"/>
</g>
<g transform="translate(231.7 455.8)">

 <!-- tower -->
 <rect x="0.1" y="0.4" width="40.6" height="92.7" rx="0.7" fill="#f7f7f7" stroke="#262626" stroke-width="1"/>
 <line x1="0.7" y1="7.5" x2="40.1" y2="7.5" stroke="#c4c4c4" stroke-width="0.8"/>
 <line x1="0.7" y1="12.5" x2="40.1" y2="12.5" stroke="#8a8a8a" stroke-width="0.7"/>
 <line x1="0.1" y1="25.2" x2="40.7" y2="25.2" stroke="#262626" stroke-width="1.4"/>
 <rect x="8.6" y="6.65" width="23.5" height="1.7" rx="0.4" fill="#141414"/>
 <rect x="8.6" y="17.95" width="23.5" height="1.7" rx="0.4" fill="#141414"/>
 <rect x="8.6" y="29.75" width="23.5" height="1.7" rx="0.4" fill="#141414"/>
 <rect x="1.3" y="67.8" width="38.2" height="22.1" fill="#474747"/>
 <g stroke="#6f6f6f" stroke-width="0.7">
  <line x1="1.3" y1="71" x2="39.5" y2="71"/><line x1="1.3" y1="74.3" x2="39.5" y2="74.3"/>
  <line x1="1.3" y1="77.7" x2="39.5" y2="77.7"/><line x1="1.3" y1="81.1" x2="39.5" y2="81.1"/>
  <line x1="1.3" y1="84.5" x2="39.5" y2="84.5"/><line x1="1.3" y1="87.8" x2="39.5" y2="87.8"/>
 </g>
 <rect x="0.7" y="89.9" width="39.4" height="2.6" fill="#fdfdfd"/>
 <rect x="0.1" y="0.4" width="40.6" height="92.7" rx="0.7" fill="none" stroke="#262626" stroke-width="1"/>

 <!-- monitor base plate -->
 <polygon points="54.3,91.3 75.3,103 123.4,98.6 123.3,97 75.3,101.3 54.6,89.8" fill="#777" stroke="#222" stroke-width="1.1" stroke-linejoin="round"/>
 <polygon points="54.8,89.6 100,88.2 123.3,97.1 75.3,101.3" fill="#f8f8f8" stroke="#222" stroke-width="1.2" stroke-linejoin="round"/>
 <!-- stand block -->
 <polygon points="69.5,86.6 112.9,86.6 112.9,93.2 107.6,97.3 72.4,97.3 69.5,94.6" fill="#ececec" stroke="#222" stroke-width="1" stroke-linejoin="round"/>
 <rect x="72.4" y="86.6" width="35.2" height="1.6" fill="#4d4d4d"/>
 <rect x="72.4" y="88.2" width="35.2" height="3" fill="#9e9e9e"/>
 <rect x="72.4" y="91.2" width="35.2" height="5.6" fill="#dedede"/>
 <line x1="72.4" y1="86.6" x2="72.4" y2="97.2" stroke="#777" stroke-width="0.6"/>
 <line x1="107.6" y1="86.6" x2="107.6" y2="97.2" stroke="#333" stroke-width="0.8"/>
 <!-- neck shadow -->
 <rect x="62.9" y="84.4" width="55.8" height="2.2" fill="#3a3a3a"/>
 <!-- monitor body -->
 <rect x="57" y="29.9" width="67.3" height="54.5" rx="2.3" fill="#e7e7e7" stroke="#262626" stroke-width="1.35"/>
 <rect x="59" y="31.6" width="63.3" height="3.2" rx="1.2" fill="#f2f2f2"/>
 <rect x="58.4" y="31.6" width="3.6" height="50" rx="1.2" fill="#efefef"/>
 <path d="M58,30.1 H123.3" fill="none" stroke="#1f1f1f" stroke-width="2"/>
 <path d="M58.6,84.3 H122.7" fill="none" stroke="#1f1f1f" stroke-width="1.7"/>
 <rect x="64.9" y="37" width="52" height="40" rx="1" fill="#a9a9a9"/>
 <rect x="66.2" y="38" width="48.8" height="37.6" rx="0.6" fill="#151515"/>
 <rect x="68.7" y="40" width="44.2" height="34.1" fill="#fff"/>
 <ellipse cx="67.7" cy="79.6" rx="1.2" ry="1" fill="#6a6a6a"/>
 <rect x="110.2" y="78.5" width="4.8" height="1.8" fill="#7a7a7a"/>
 <!-- keyboard -->
<polygon points="57.80,106.10 69.2,128.1 155.5,117.6 154.80,113.10 69.30,124.50" fill="#d2d2d2" stroke="#1e1e1e" stroke-width="1.2" stroke-linejoin="round"/>
<polygon points="57.80,106.10 69.2,128.1 69.30,124.50" fill="#2a2a2a"/>
<polyline points="69.6,126.3 155.2,115.4" fill="none" stroke="#f2f2f2" stroke-width="1"/>
<polygon points="58.8,115.9 61.6,115.3 63.4,118.4 61.8,119.2" fill="#1e1e1e"/>
<polygon points="58.00,105.20 139.60,96.20 154.80,113.10 69.30,124.50" fill="#f6f6f6" stroke="#1e1e1e" stroke-width="1.15" stroke-linejoin="round"/>
<g fill="#333" stroke="#333" stroke-width="0.4" stroke-linejoin="round"><polygon points="63.51,106.13 67.90,105.64 69.82,108.74 65.39,109.25"/><polygon points="69.71,105.44 83.73,103.87 85.78,106.89 71.64,108.52"/><polygon points="85.94,103.62 99.45,102.11 101.63,105.05 88.01,106.63"/><polygon points="101.75,101.85 114.79,100.39 117.08,103.27 103.94,104.79"/><polygon points="117.31,100.11 127.01,99.02 129.39,101.84 119.63,102.97"/><polygon points="67.02,110.35 115.92,104.62 124.36,115.30 74.02,121.90"/><polygon points="118.29,104.34 128.14,103.19 131.91,107.71 121.96,108.93"/><polygon points="126.00,109.82 129.97,109.33 132.21,112.03 128.21,112.54"/><polygon points="124.57,112.21 134.61,110.93 136.89,113.65 126.79,114.98"/></g>
<g fill="#fff"><polygon points="65.09,106.77 67.26,106.52 68.23,108.09 66.04,108.34"/><polygon points="71.28,106.07 73.43,105.83 74.42,107.38 72.26,107.63"/><polygon points="74.57,105.70 76.70,105.46 77.70,107.00 75.56,107.25"/><polygon points="77.83,105.33 79.94,105.09 80.96,106.63 78.84,106.87"/><polygon points="81.06,104.97 83.16,104.73 84.20,106.26 82.08,106.50"/><polygon points="87.50,104.24 89.57,104.00 90.63,105.52 88.55,105.76"/><polygon points="90.67,103.88 92.72,103.65 93.80,105.16 91.73,105.39"/><polygon points="93.81,103.53 95.85,103.30 96.94,104.80 94.89,105.03"/><polygon points="96.93,103.17 98.96,102.94 100.06,104.44 98.02,104.67"/><polygon points="103.31,102.45 105.31,102.23 106.43,103.71 104.42,103.94"/><polygon points="106.36,102.11 108.34,101.89 109.48,103.36 107.49,103.59"/><polygon points="109.39,101.77 111.36,101.54 112.51,103.01 110.53,103.24"/><polygon points="112.40,101.43 114.35,101.21 115.51,102.66 113.55,102.89"/><polygon points="118.87,100.70 120.79,100.48 121.97,101.92 120.04,102.14"/><polygon points="121.81,100.36 123.72,100.15 124.91,101.59 122.99,101.81"/><polygon points="124.73,100.03 126.63,99.82 127.83,101.25 125.93,101.47"/><polygon points="68.62,111.01 70.82,110.75 71.60,112.00 69.39,112.27"/><polygon points="71.99,110.61 74.17,110.35 74.96,111.60 72.77,111.86"/><polygon points="75.32,110.21 77.49,109.96 78.29,111.20 76.12,111.46"/><polygon points="78.64,109.82 80.79,109.57 81.60,110.81 79.44,111.06"/><polygon points="81.92,109.43 84.06,109.18 84.88,110.41 82.74,110.67"/><polygon points="85.19,109.05 87.31,108.80 88.14,110.02 86.01,110.28"/><polygon points="88.43,108.67 90.53,108.42 91.37,109.64 89.26,109.89"/><polygon points="91.64,108.29 93.73,108.04 94.58,109.25 92.49,109.50"/><polygon points="94.84,107.91 96.91,107.66 97.77,108.87 95.69,109.12"/><polygon points="98.00,107.54 100.06,107.29 100.93,108.49 98.87,108.74"/><polygon points="101.15,107.16 103.19,106.92 104.08,108.12 102.03,108.36"/><polygon points="104.27,106.79 106.30,106.56 107.19,107.74 105.16,107.99"/><polygon points="107.37,106.43 109.39,106.19 110.29,107.37 108.27,107.62"/><polygon points="110.45,106.06 112.45,105.83 113.36,107.01 111.36,107.25"/><polygon points="113.51,105.70 115.49,105.47 116.41,106.64 114.42,106.88"/><polygon points="69.90,113.10 72.11,112.83 72.90,114.11 70.68,114.38"/><polygon points="73.28,112.69 75.48,112.43 76.28,113.69 74.08,113.96"/><polygon points="76.64,112.29 78.82,112.02 79.63,113.28 77.44,113.55"/><polygon points="79.97,111.88 82.13,111.62 82.96,112.88 80.79,113.14"/><polygon points="83.28,111.49 85.42,111.23 86.26,112.47 84.10,112.74"/><polygon points="86.56,111.09 88.69,110.83 89.53,112.07 87.40,112.34"/><polygon points="89.82,110.70 91.93,110.44 92.79,111.68 90.66,111.94"/><polygon points="93.05,110.31 95.15,110.05 96.01,111.28 93.91,111.54"/><polygon points="96.26,109.92 98.34,109.67 99.22,110.89 97.13,111.15"/><polygon points="99.44,109.54 101.51,109.29 102.40,110.50 100.32,110.76"/><polygon points="102.61,109.15 104.66,108.91 105.55,110.12 103.49,110.37"/><polygon points="105.74,108.78 107.78,108.53 108.69,109.73 106.64,109.98"/><polygon points="108.86,108.40 110.88,108.16 111.80,109.35 109.77,109.60"/><polygon points="111.95,108.03 113.96,107.78 114.89,108.98 112.87,109.22"/><polygon points="115.03,107.66 117.02,107.42 117.95,108.60 115.95,108.85"/><polygon points="71.20,115.22 73.42,114.95 74.22,116.24 71.99,116.52"/><polygon points="74.60,114.80 76.81,114.53 77.62,115.82 75.40,116.09"/><polygon points="77.97,114.39 80.17,114.12 80.99,115.40 78.79,115.67"/><polygon points="81.32,113.98 83.50,113.71 84.33,114.98 82.15,115.25"/><polygon points="84.65,113.57 86.81,113.30 87.65,114.57 85.49,114.84"/><polygon points="87.95,113.16 90.09,112.90 90.95,114.16 88.80,114.42"/><polygon points="91.22,112.76 93.35,112.49 94.22,113.75 92.08,114.01"/><polygon points="94.47,112.36 96.59,112.10 97.46,113.34 95.34,113.61"/><polygon points="97.70,111.96 99.80,111.70 100.68,112.94 98.58,113.20"/><polygon points="100.90,111.56 102.98,111.31 103.88,112.54 101.79,112.80"/><polygon points="104.08,111.17 106.15,110.92 107.05,112.15 104.98,112.40"/><polygon points="107.24,110.78 109.29,110.53 110.20,111.75 108.15,112.01"/><polygon points="110.37,110.40 112.40,110.15 113.33,111.36 111.29,111.62"/><polygon points="113.48,110.01 115.50,109.77 116.43,110.98 114.41,111.23"/><polygon points="116.57,109.63 118.57,109.39 119.52,110.59 117.51,110.84"/><polygon points="72.51,117.38 74.75,117.10 75.56,118.41 73.32,118.70"/><polygon points="75.93,116.95 78.16,116.67 78.98,117.97 76.75,118.26"/><polygon points="79.33,116.52 81.53,116.24 82.37,117.54 80.16,117.82"/><polygon points="82.70,116.10 84.89,115.82 85.73,117.11 83.54,117.39"/><polygon points="86.04,115.68 88.21,115.40 89.07,116.69 86.89,116.97"/><polygon points="89.36,115.26 91.51,114.99 92.38,116.27 90.22,116.54"/><polygon points="92.65,114.85 94.79,114.58 95.67,115.85 93.52,116.12"/><polygon points="95.92,114.43 98.04,114.17 98.93,115.43 96.80,115.70"/><polygon points="99.16,114.03 101.27,113.76 102.17,115.02 100.06,115.29"/><polygon points="102.38,113.62 104.47,113.36 105.38,114.61 103.29,114.88"/><polygon points="105.58,113.22 107.65,112.96 108.57,114.20 106.49,114.47"/><polygon points="108.75,112.82 110.81,112.56 111.74,113.80 109.67,114.06"/><polygon points="111.90,112.42 113.94,112.17 114.88,113.40 112.83,113.66"/><polygon points="115.02,112.03 117.05,111.78 118.00,113.00 115.97,113.26"/><polygon points="118.13,111.64 120.14,111.39 121.10,112.61 119.08,112.86"/><polygon points="73.85,119.57 76.10,119.28 76.92,120.61 74.66,120.90"/><polygon points="77.29,119.12 79.52,118.84 80.36,120.16 78.12,120.45"/><polygon points="80.70,118.69 82.92,118.40 83.77,119.72 81.54,120.01"/><polygon points="84.05,118.26 106.03,115.43 106.95,116.70 84.90,119.57" fill="#d9d9d9"/><polygon points="107.10,115.29 109.18,115.03 110.12,116.29 108.02,116.56"/><polygon points="110.29,114.89 112.36,114.62 113.30,115.88 111.22,116.15"/><polygon points="113.45,114.48 115.51,114.21 116.46,115.46 114.40,115.73"/><polygon points="116.59,114.08 118.63,113.81 119.59,115.06 117.55,115.32"/><polygon points="119.71,113.67 121.73,113.41 122.71,114.65 120.68,114.92"/><polygon points="119.87,104.95 121.83,104.72 122.77,105.88 120.81,106.12"/><polygon points="122.86,104.60 124.80,104.37 125.75,105.52 123.80,105.76"/><polygon points="125.83,104.25 127.75,104.02 128.71,105.17 126.78,105.40"/><polygon points="121.42,106.88 123.39,106.65 124.34,107.82 122.37,108.06"/><polygon points="124.43,106.52 126.38,106.29 127.34,107.46 125.38,107.70"/><polygon points="127.41,106.16 129.34,105.93 130.31,107.09 128.37,107.33"/><polygon points="127.62,110.45 129.59,110.20 130.58,111.40 128.60,111.65"/><polygon points="126.20,112.84 128.20,112.58 129.19,113.81 127.19,114.07"/><polygon points="129.25,112.45 131.23,112.19 132.23,113.41 130.25,113.67"/><polygon points="132.28,112.06 134.24,111.81 135.25,113.02 133.28,113.28"/></g>
<polygon points="133.5,104.4 141.7,103.8 148.2,112.9 136,114.5" fill="#efefef" stroke="#8a8a8a" stroke-width="0.6" stroke-linejoin="round"/>
<polyline points="133.5,104.4 136,114.5 148.2,112.9" fill="none" stroke="#333" stroke-width="0.8" stroke-linejoin="round"/>
<ellipse cx="136.49" cy="99.66" rx="1.5" ry="1.25" fill="#fff" stroke="#333" stroke-width="0.8"/>
</g>
</svg>
</body>
</html>
